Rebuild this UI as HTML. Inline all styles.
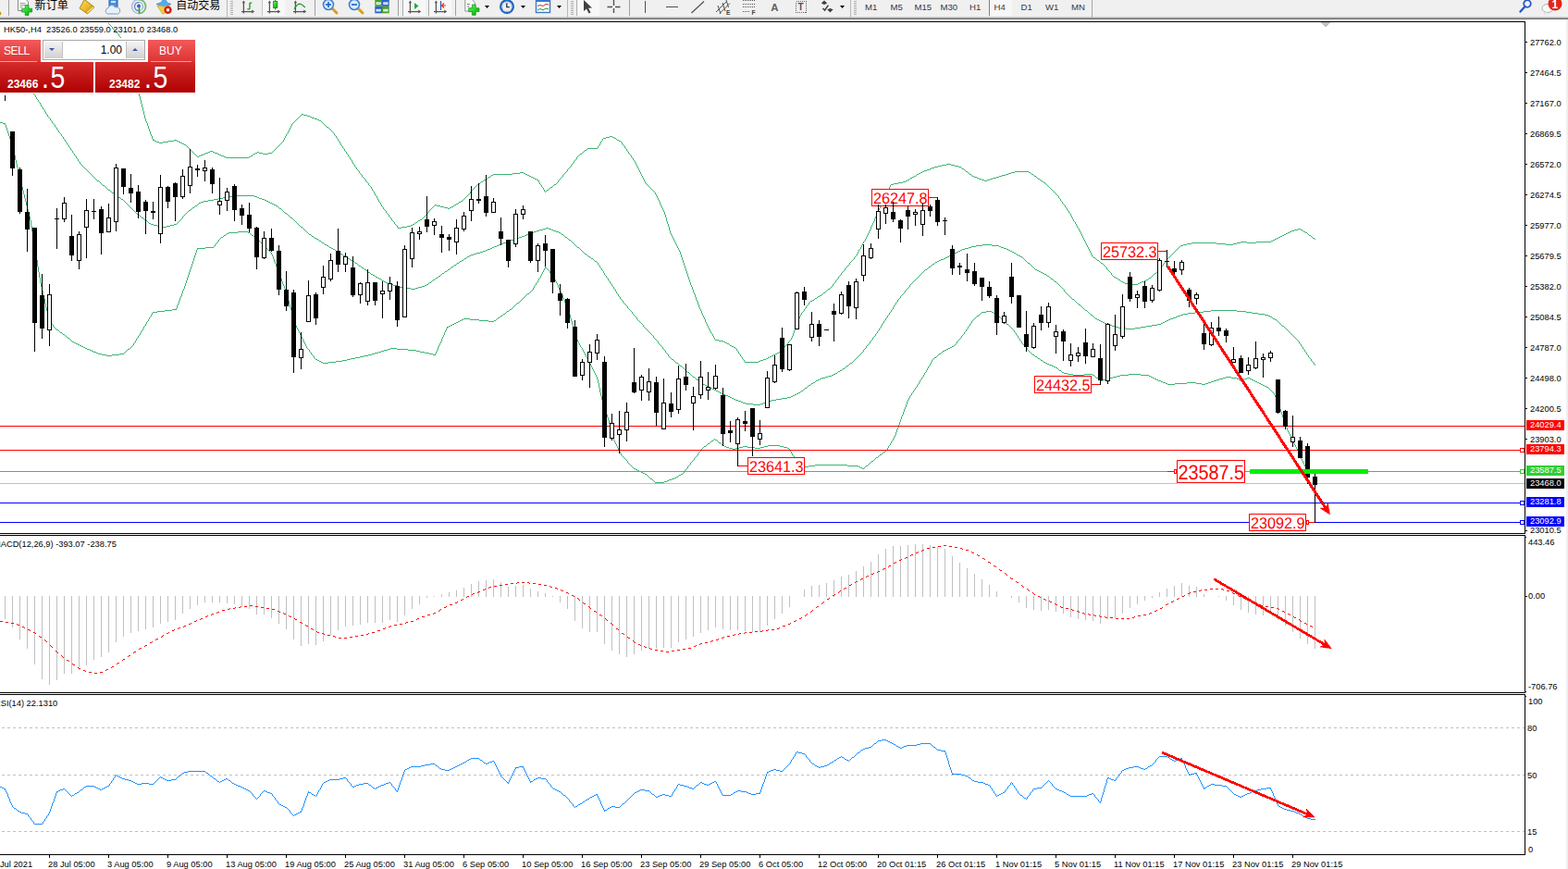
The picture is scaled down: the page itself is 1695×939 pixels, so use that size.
<!DOCTYPE html>
<html><head><meta charset="utf-8"><title>HK50-,H4</title>
<style>
html,body{margin:0;padding:0;background:#fff;}
body{width:1695px;height:939px;position:relative;overflow:hidden;font-family:"Liberation Sans",sans-serif;}
#tb{position:absolute;left:0;top:0;width:1695px;height:18px;background:#f0f0f0;}
#tbl1{position:absolute;left:0;top:18px;width:1695px;height:1px;background:#cfcfcf}
#tbl2{position:absolute;left:0;top:19px;width:1695px;height:1px;background:#a0a0a0}
#tbl3{position:absolute;left:0;top:20px;width:1695px;height:1px;background:#707070}
#rightedge{position:absolute;left:1693px;top:21px;width:2px;height:918px;background:#f0f0f0}
svg{position:absolute;left:0;top:0}
.t,.tag,.tf{position:absolute;font-size:9.3px;line-height:12px;height:12px;white-space:nowrap;color:#000;}
.tag{left:1650px;width:41px;height:11px;line-height:11px;color:#fff;text-indent:4px;margin-top:0px}
.tf{top:1.5px;font-size:9.6px;color:#383838}
.lab{position:absolute;border:1px solid #f00;color:#f00;text-align:center;white-space:nowrap;letter-spacing:-0.1px}
#panel div{position:absolute}
.red1{background:linear-gradient(#f45a5a,#dc3434)}
.red2{background:linear-gradient(#d62c2c,#ae0000)}
.pw{color:#fff;white-space:nowrap}
</style></head><body>
<div id="tb"></div><div id="tbl1"></div><div id="tbl2"></div><div id="tbl3"></div>
<svg width="1695" height="24" viewBox="0 0 1695 24"><defs><linearGradient id="gp" x1="0" y1="0" x2="1" y2="1"><stop offset="0" stop-color="#7cf07c"/><stop offset="0.5" stop-color="#28d828"/><stop offset="1" stop-color="#0c9c0c"/></linearGradient><linearGradient id="gb" x1="0" y1="0" x2="1" y2="1"><stop offset="0" stop-color="#fbe060"/><stop offset="0.55" stop-color="#e8b828"/><stop offset="1" stop-color="#a87008"/></linearGradient></defs><path d="M0,12.5 l1.5,1.2 l-0.5,2.3 l-1,0.5z" fill="#c89018"/><rect x="9" y="0" width="1" height="17" fill="#a0a0a0"/><path d="M19.5,-1 h8 l3,3 v9.5 h-11 z" fill="#fff" stroke="#8a8a8a" stroke-width="1"/><path d="M21.5,3.5h6M21.5,5.5h6M21.5,7.5h3" stroke="#9a9a9a" stroke-width="1"/><path d="M27.2,5.6 h3.8 v3.6 h3.6 v3.8 h-3.6 v3.6 h-3.8 v-3.6 h-3.6 v-3.8 h3.6 z" fill="url(#gp)" stroke="#0a8a0a" stroke-width="0.7"/><text x="37.5" y="10.3" font-size="12.2" font-family="'Liberation Sans','Noto Sans CJK SC',sans-serif" fill="#000">新订单</text><path d="M91.3,-0.5 L102,7.7 L94.5,14.8 L86,9 Z" fill="url(#gb)" stroke="#a87808" stroke-width="0.9"/><path d="M94.5,14 L101.5,8 L100.8,7.2 L94,13Z" fill="#fff0b0"/><rect x="118" y="-1" width="9" height="9" fill="#4a90e0" stroke="#2060b0" stroke-width="1"/><rect x="120" y="1" width="5" height="2" fill="#cfe4ff"/><path d="M116,15 a3.5,3.5 0 0 1 1,-6.5 a4,4 0 0 1 7.5,-0.5 a3.5,3.5 0 0 1 3,7 z" fill="#e8f0fa" stroke="#7a9ccc" stroke-width="1"/><path d="M150,-0.5 a7.5,7.5 0 0 0 0,15" fill="none" stroke="#a8bce4" stroke-width="1.5"/><path d="M150,14.5 a7.5,7.5 0 0 0 0,-15" fill="none" stroke="#78b878" stroke-width="1.8"/><path d="M150,2.5 a4.5,4.5 0 0 0 0,9" fill="none" stroke="#6888cc" stroke-width="1.4"/><path d="M150,11.5 a4.5,4.5 0 0 0 0,-9" fill="none" stroke="#88b0c8" stroke-width="1.2"/><circle cx="150" cy="6.5" r="1.9" fill="#3060c8"/><path d="M150.5,7.5 v7" fill="none" stroke="#28a828" stroke-width="1.6"/><path d="M169,4.5 q8,-4 16,0 q-8,3.5 -16,0z" fill="#60b0e4" stroke="#3c88c8" stroke-width="0.8"/><path d="M173.5,3.2 l2.2,-4.2 h3.6 l2.2,4.2z" fill="#58a8e0"/><path d="M170,6.2 q7,2.5 13,0 l-5.5,8.6 q-1,0.6 -2,0z" fill="#f4d040" stroke="#c89810" stroke-width="0.7"/><circle cx="181.5" cy="10.8" r="4.2" fill="#d82010"/><rect x="180" y="9.3" width="3" height="3" fill="#fff"/><text x="190.3" y="10.3" font-size="12" font-family="'Liberation Sans','Noto Sans CJK SC',sans-serif" fill="#000">自动交易</text><rect x="245" y="0" width="1" height="19" fill="#b8b8b8"/><rect x="249" y="1" width="3" height="1" fill="#b0b0b0"/><rect x="249" y="3" width="3" height="1" fill="#b0b0b0"/><rect x="249" y="5" width="3" height="1" fill="#b0b0b0"/><rect x="249" y="7" width="3" height="1" fill="#b0b0b0"/><rect x="249" y="9" width="3" height="1" fill="#b0b0b0"/><rect x="249" y="11" width="3" height="1" fill="#b0b0b0"/><rect x="249" y="13" width="3" height="1" fill="#b0b0b0"/><rect x="249" y="15" width="3" height="1" fill="#b0b0b0"/><path d="M263.4,2 V14.6 M261,12.5 H273" stroke="#555555" stroke-width="1.25" fill="none"/><path d="M275.2,12.5 l-3,-1.9 v3.8z M263.4,0.6 l-1.7,2.6 h3.4z" fill="#555555"/><path d="M270,3.1 V9.8 M270,3.1 h2.2 M267.3,9.8 h2.7" stroke="#189828" stroke-width="1.3" fill="none"/><rect x="283" y="0" width="1" height="17" fill="#c8c8c8"/><rect x="284.5" y="0" width="24" height="17" fill="#f8f8f8"/><path d="M291.4,2 V14.6 M289,12.5 H301" stroke="#555555" stroke-width="1.25" fill="none"/><path d="M303.2,12.5 l-3,-1.9 v3.8z M291.4,0.6 l-1.7,2.6 h3.4z" fill="#555555"/><path d="M297.6,0v10.5" stroke="#108818" stroke-width="1"/><rect x="295.4" y="1.6" width="4.4" height="6.8" fill="url(#gp)" stroke="#108818" stroke-width="0.8"/><path d="M319.4,2 V14.6 M317,12.5 H329" stroke="#555555" stroke-width="1.25" fill="none"/><path d="M331.2,12.5 l-3,-1.9 v3.8z M319.4,0.6 l-1.7,2.6 h3.4z" fill="#555555"/><path d="M318,9.6 Q321.5,4.2 324,4.2 Q326.5,4.6 329.8,8" stroke="#189828" stroke-width="1.2" fill="none"/><rect x="340" y="0" width="1" height="17" fill="#a0a0a0"/><path d="M359,9 l5,5" stroke="#d8a020" stroke-width="3" stroke-linecap="round"/><circle cx="355" cy="5" r="5.5" fill="#d8ecff" stroke="#4080d0" stroke-width="1.6"/><path d="M352,5 h6" stroke="#2060c0" stroke-width="1.6"/><path d="M355,2 v6" stroke="#2060c0" stroke-width="1.6"/><path d="M387,9 l5,5" stroke="#d8a020" stroke-width="3" stroke-linecap="round"/><circle cx="383" cy="5" r="5.5" fill="#d8ecff" stroke="#4080d0" stroke-width="1.6"/><path d="M380,5 h6" stroke="#2060c0" stroke-width="1.6"/><rect x="405.3" y="-0.5" width="7.7" height="7.3" fill="#48a028"/><rect x="406.6" y="2.3" width="5.1" height="2.6" fill="#fff"/><rect x="407.5" y="3.1" width="3.3" height="0.9" fill="#48a028" opacity="0.45"/><rect x="413" y="-0.5" width="7.7" height="7.3" fill="#2862d2"/><rect x="414.3" y="2.3" width="5.1" height="2.6" fill="#fff"/><rect x="415.2" y="3.1" width="3.3" height="0.9" fill="#2862d2" opacity="0.45"/><rect x="405.3" y="7" width="7.7" height="7.3" fill="#2862d2"/><rect x="406.6" y="9.8" width="5.1" height="2.6" fill="#fff"/><rect x="407.5" y="10.6" width="3.3" height="0.9" fill="#2862d2" opacity="0.45"/><rect x="413" y="7" width="7.7" height="7.3" fill="#48a028"/><rect x="414.3" y="9.8" width="5.1" height="2.6" fill="#fff"/><rect x="415.2" y="10.6" width="3.3" height="0.9" fill="#48a028" opacity="0.45"/><rect x="430" y="0" width="1" height="17" fill="#a0a0a0"/><rect x="435" y="0" width="1" height="17" fill="#a8a8a8"/><rect x="436" y="0" width="24" height="17" fill="#f7f7f7"/><path d="M443.4,2 V14.6 M441,12.5 H453" stroke="#555555" stroke-width="1.25" fill="none"/><path d="M455.2,12.5 l-3,-1.9 v3.8z M443.4,0.6 l-1.7,2.6 h3.4z" fill="#555555"/><path d="M448,3 l4.5,3.5 l-4.5,3.5z" fill="#20b030"/><rect x="464" y="0" width="24" height="17" fill="#f7f7f7"/><rect x="463" y="0" width="1" height="17" fill="#a8a8a8"/><path d="M471.4,2 V14.6 M469,12.5 H481" stroke="#555555" stroke-width="1.25" fill="none"/><path d="M483.2,12.5 l-3,-1.9 v3.8z M471.4,0.6 l-1.7,2.6 h3.4z" fill="#555555"/><path d="M476.5,1v10" stroke="#3060c0" stroke-width="1.3"/><path d="M482,6 h-4 m2,-2.5 l-2.5,2.5 l2.5,2.5" stroke="#e03010" stroke-width="1.2" fill="none"/><rect x="492" y="0" width="1" height="17" fill="#a0a0a0"/><path d="M502.8,-0.5 h7.5 l3,3 v9.6 h-10.5z" fill="#f8f8f8" stroke="#8a8a8a" stroke-width="0.9"/><path d="M505,4.5 h3 M505,7 h2" stroke="#707070" stroke-width="0.9"/><path d="M510.4,5.1 h3.8 v3.7 h3.7 v3.8 h-3.7 v3.7 h-3.8 v-3.7 h-3.7 v-3.8 h3.7 z" fill="url(#gp)" stroke="#0a8a0a" stroke-width="0.7"/><path d="M524.0,6 h5 l-2.5,3z" fill="#000"/><circle cx="548" cy="7.2" r="8" fill="#2468c8"/><circle cx="548" cy="7.2" r="5.6" fill="#eef0f4"/><circle cx="548" cy="7.2" r="4.6" fill="none" stroke="#a0a8b8" stroke-width="0.8" stroke-dasharray="0.8 1.6"/><path d="M547.8,3.2 V7.6 H550.8" stroke="#303030" stroke-width="1.3" fill="none"/><path d="M563.0,6 h5 l-2.5,3z" fill="#000"/><rect x="579.5" y="-0.5" width="15" height="14" fill="#fff" stroke="#3878c8" stroke-width="1.4"/><rect x="579" y="-1" width="16" height="3" fill="#3878c8"/><path d="M581,6.5 l3,-1 l3,1 l3,-2 l3,0.5" stroke="#c03020" stroke-width="1" fill="none"/><path d="M581,11 l3,-1.5 l3,1.5 l3,-2 l3,1" stroke="#209030" stroke-width="1" fill="none"/><path d="M602.0,6 h5 l-2.5,3z" fill="#000"/><rect x="613" y="0" width="1" height="19" fill="#b8b8b8"/><rect x="617" y="1" width="3" height="1" fill="#b0b0b0"/><rect x="617" y="3" width="3" height="1" fill="#b0b0b0"/><rect x="617" y="5" width="3" height="1" fill="#b0b0b0"/><rect x="617" y="7" width="3" height="1" fill="#b0b0b0"/><rect x="617" y="9" width="3" height="1" fill="#b0b0b0"/><rect x="617" y="11" width="3" height="1" fill="#b0b0b0"/><rect x="617" y="13" width="3" height="1" fill="#b0b0b0"/><rect x="617" y="15" width="3" height="1" fill="#b0b0b0"/><rect x="623" y="0" width="1" height="17" fill="#b0b0b0"/><rect x="625" y="0" width="23" height="17" fill="#f8f8f8"/><path d="M631,0 V12 L634,9.5 L636.5,14.5 L638.5,13.5 L636,8.8 L640,8.5 Z" fill="#404040"/><path d="M663.5,0 V14 M656.5,7.5 H670.5" stroke="#505050" stroke-width="1.4"/><rect x="662" y="6" width="3" height="3" fill="#f0f0f0"/><rect x="680" y="0" width="1" height="17" fill="#a0a0a0"/><rect x="697" y="1" width="1" height="13" fill="#505050"/><rect x="720" y="7" width="13" height="1" fill="#505050"/><path d="M747.5,14 L761,1.5" stroke="#505050" stroke-width="1.2"/><path d="M774,13 L785,2 M778,14.5 L789,3.5 M776,6 l3,9 M781,3 l3,9 M785,0 l2.5,8" stroke="#505050" stroke-width="1"/><text x="785" y="15.6" font-size="6.6" font-weight="bold" font-family="Liberation Sans" fill="#404040">E</text><path d="M803,0.5 H816" stroke="#505050" stroke-width="1" stroke-dasharray="1 1" shape-rendering="crispEdges"/><path d="M803,4.0 H816" stroke="#505050" stroke-width="1" stroke-dasharray="1 1" shape-rendering="crispEdges"/><path d="M803,7.7 H816" stroke="#505050" stroke-width="1" stroke-dasharray="1 1" shape-rendering="crispEdges"/><path d="M803,12.0 H811" stroke="#505050" stroke-width="1" stroke-dasharray="1 1" shape-rendering="crispEdges"/><text x="812.4" y="15.6" font-size="6.6" font-weight="bold" font-family="Liberation Sans" fill="#404040">F</text><text x="833.3" y="11.6" font-size="11.4" font-weight="bold" font-family="Liberation Sans" fill="#606060">A</text><rect x="860.5" y="1.5" width="11" height="12" fill="none" stroke="#606060" stroke-width="1" stroke-dasharray="1 1" shape-rendering="crispEdges"/><text x="862.6" y="11.2" font-size="10" font-weight="bold" font-family="Liberation Sans" fill="#505050">T</text><path d="M887.8,3.6 l3.2,-3 l3.2,3 l-3.2,1.4z M894.2,10.2 l3.2,3.2 l3.2,-3.2 l-3.2,-1.2z" fill="#404040"/><path d="M889.4,9 l2.2,2 l3.8,-5.4" stroke="#404040" stroke-width="1.5" fill="none"/><path d="M908.0,6 h5 l-2.5,3z" fill="#000"/><rect x="919" y="0" width="1" height="19" fill="#b8b8b8"/><rect x="923" y="1" width="3" height="1" fill="#b0b0b0"/><rect x="923" y="3" width="3" height="1" fill="#b0b0b0"/><rect x="923" y="5" width="3" height="1" fill="#b0b0b0"/><rect x="923" y="7" width="3" height="1" fill="#b0b0b0"/><rect x="923" y="9" width="3" height="1" fill="#b0b0b0"/><rect x="923" y="11" width="3" height="1" fill="#b0b0b0"/><rect x="923" y="13" width="3" height="1" fill="#b0b0b0"/><rect x="923" y="15" width="3" height="1" fill="#b0b0b0"/><rect x="1069" y="0" width="25" height="17" fill="#f7f7f7"/><rect x="1069" y="0" width="1" height="17" fill="#808080"/><rect x="1180" y="0" width="1" height="19" fill="#a8a8a8"/><circle cx="1651" cy="4" r="3.8" fill="#eaf2ff" stroke="#2858c8" stroke-width="1.8"/><path d="M1648.5,7 l-5,5.5" stroke="#2858c8" stroke-width="2.4" stroke-linecap="round"/><ellipse cx="1673" cy="9" rx="6" ry="4.5" fill="#f8f8f8" stroke="#b0b0b0" stroke-width="1"/><path d="M1670,13 l-1,3 l4,-3z" fill="#d8d8d8"/><circle cx="1681" cy="4" r="7.5" fill="#e02818"/><text x="1677.5" y="8.5" font-size="12" font-weight="bold" font-family="Liberation Sans" fill="#fff">1</text></svg>
<div class="tf" style="left:935px">M1</div><div class="tf" style="left:962.5px">M5</div><div class="tf" style="left:988.5px">M15</div><div class="tf" style="left:1016.5px">M30</div><div class="tf" style="left:1048px">H1</div><div class="tf" style="left:1074.5px">H4</div><div class="tf" style="left:1103.5px">D1</div><div class="tf" style="left:1130px">W1</div><div class="tf" style="left:1158px">MN</div>
<svg width="1695" height="939" viewBox="0 0 1695 939" shape-rendering="crispEdges">
<rect x="0" y="23" width="1649" height="1" fill="#000" />
<rect x="0" y="576" width="1649" height="1" fill="#000" />
<rect x="0" y="578" width="1649" height="1" fill="#000" />
<rect x="0" y="748" width="1649" height="1" fill="#000" />
<rect x="0" y="750" width="1649" height="1" fill="#000" />
<rect x="0" y="923" width="1649" height="1" fill="#000" />
<rect x="1648" y="23" width="1" height="554" fill="#000" />
<rect x="1648" y="578" width="1" height="171" fill="#000" />
<rect x="1648" y="750" width="1" height="174" fill="#000" />
<path d="M117 25h1v1h-1zM118 26h1v1h-1zM119 27h1v1h-1zM120 28h1v1h-1zM121 29h1v2h-1zM122 31h1v1h-1zM123 32h1v1h-1zM124 33h1v1h-1zM125 34h1v1h-1zM126 35h1v1h-1zM127 36h1v1h-1zM128 37h1v2h-1zM129 39h1v1h-1zM130 40h1v1h-1zM131 41h1v2h-1zM132 43h1v3h-1zM133 46h1v4h-1zM134 50h1v3h-1zM135 53h1v3h-1zM136 56h1v3h-1zM137 59h1v3h-1zM138 62h1v4h-1zM139 66h1v3h-1zM140 69h1v3h-1zM141 72h1v3h-1zM142 75h1v3h-1zM143 78h1v4h-1zM144 82h1v3h-1zM145 85h1v3h-1zM146 88h1v3h-1zM147 91h1v3h-1zM148 94h1v4h-1zM149 98h1v3h-1zM150 101h1v3h-1zM151 104h1v4h-1zM152 108h1v4h-1zM153 112h1v4h-1zM154 116h1v4h-1zM155 120h1v4h-1zM156 124h1v4h-1zM157 128h1v3h-1zM158 131h1v2h-1zM159 133h1v3h-1zM160 136h1v3h-1zM161 139h1v3h-1zM162 142h1v3h-1zM163 145h1v2h-1zM164 147h1v3h-1zM165 150h1v1h-1zM165 151h2v1h-2zM167 152h2v1h-2zM169 153h3v1h-3zM172 154h4v1h-4zM176 153h6v1h-6zM182 152h6v1h-6zM188 151h3v1h-3zM191 152h2v1h-2zM193 153h2v1h-2zM195 154h2v1h-2zM197 155h2v1h-2zM199 156h2v1h-2zM201 157h1v1h-1zM202 158h1v1h-1zM203 159h1v1h-1zM204 160h1v1h-1zM205 161h1v1h-1zM206 162h1v1h-1zM207 163h1v1h-1zM208 164h1v1h-1zM209 165h1v1h-1zM210 166h1v1h-1zM211 167h1v1h-1zM212 168h1v1h-1zM213 169h2v1h-2zM215 168h2v1h-2zM217 167h3v1h-3zM220 166h2v1h-2zM222 165h3v1h-3zM225 164h2v1h-2zM227 163h3v1h-3zM230 164h2v1h-2zM232 165h3v1h-3zM235 166h2v1h-2zM237 167h2v1h-2zM239 168h3v1h-3zM242 169h2v1h-2zM244 170h25v1h-25zM269 169h2v1h-2zM271 168h2v1h-2zM273 167h1v1h-1zM274 166h2v1h-2zM276 165h2v1h-2zM278 164h2v1h-2zM280 165h4v1h-4zM284 166h6v1h-6zM290 165h4v1h-4zM294 164h1v1h-1zM295 163h1v1h-1zM296 162h1v1h-1zM297 161h1v1h-1zM298 160h1v1h-1zM299 159h1v1h-1zM300 158h1v1h-1zM301 157h1v1h-1zM302 156h1v1h-1zM303 155h1v1h-1zM304 154h1v1h-1zM305 153h1v1h-1zM306 151h1v2h-1zM307 149h1v2h-1zM308 147h1v2h-1zM309 145h1v2h-1zM310 144h1v1h-1zM311 142h1v2h-1zM312 140h1v2h-1zM313 138h1v2h-1zM314 136h1v2h-1zM315 134h1v2h-1zM316 133h1v1h-1zM317 132h1v1h-1zM318 131h1v1h-1zM319 130h1v1h-1zM320 129h1v1h-1zM321 128h1v1h-1zM322 127h1v1h-1zM323 126h1v1h-1zM324 125h1v1h-1zM325 124h1v1h-1zM326 123h2v1h-2zM328 124h4v1h-4zM332 125h3v1h-3zM335 126h2v1h-2zM337 127h3v1h-3zM340 128h3v1h-3zM343 129h2v1h-2zM345 130h2v1h-2zM347 131h1v1h-1zM348 132h1v1h-1zM349 133h1v1h-1zM350 134h1v1h-1zM351 135h1v1h-1zM352 136h1v1h-1zM353 137h2v1h-2zM355 138h1v1h-1zM356 139h1v1h-1zM357 140h1v1h-1zM358 141h1v1h-1zM359 142h1v1h-1zM360 143h1v1h-1zM361 144h1v2h-1zM362 146h1v1h-1zM363 147h1v2h-1zM364 149h1v1h-1zM365 150h1v2h-1zM366 152h1v1h-1zM367 153h1v2h-1zM368 155h1v2h-1zM369 157h1v1h-1zM370 158h1v2h-1zM371 160h1v1h-1zM372 161h1v2h-1zM373 163h1v1h-1zM374 164h1v2h-1zM375 166h1v1h-1zM376 167h1v2h-1zM377 169h1v1h-1zM378 170h1v2h-1zM379 172h1v1h-1zM380 173h1v2h-1zM381 175h1v2h-1zM382 177h1v1h-1zM383 178h1v2h-1zM384 180h1v1h-1zM385 181h1v2h-1zM386 183h1v1h-1zM387 184h1v1h-1zM388 185h1v2h-1zM389 187h1v1h-1zM390 188h1v1h-1zM391 189h1v2h-1zM392 191h1v1h-1zM393 192h1v1h-1zM394 193h1v1h-1zM395 194h1v2h-1zM396 196h1v1h-1zM397 197h1v1h-1zM398 198h1v2h-1zM399 200h1v1h-1zM400 201h1v1h-1zM401 202h1v2h-1zM402 204h1v2h-1zM403 206h1v1h-1zM404 207h1v2h-1zM405 209h1v2h-1zM406 211h1v1h-1zM407 212h1v2h-1zM408 214h1v2h-1zM409 216h1v2h-1zM410 218h1v1h-1zM411 219h1v2h-1zM412 221h1v2h-1zM413 223h1v1h-1zM414 224h1v2h-1zM415 226h1v1h-1zM416 227h1v1h-1zM417 228h1v2h-1zM418 230h1v1h-1zM419 231h1v1h-1zM420 232h1v2h-1zM421 234h1v1h-1zM422 235h1v1h-1zM423 236h1v2h-1zM424 238h1v1h-1zM425 239h1v1h-1zM426 240h1v2h-1zM427 242h1v1h-1zM428 243h1v1h-1zM429 244h1v2h-1zM430 246h4v1h-4zM434 245h6v1h-6zM440 244h4v1h-4zM444 243h2v1h-2zM446 242h2v1h-2zM448 241h1v1h-1zM449 240h2v1h-2zM451 239h1v1h-1zM452 238h2v1h-2zM454 237h2v1h-2zM456 236h1v1h-1zM457 235h1v1h-1zM458 234h1v1h-1zM459 233h1v1h-1zM460 232h1v1h-1zM461 231h1v1h-1zM462 230h1v1h-1zM463 228h1v2h-1zM464 227h1v1h-1zM465 226h1v1h-1zM466 225h1v1h-1zM467 224h1v1h-1zM468 223h1v1h-1zM469 222h1v1h-1zM470 221h2v1h-2zM472 222h4v1h-4zM476 223h4v1h-4zM480 224h4v1h-4zM484 225h2v1h-2zM486 224h2v1h-2zM488 223h2v1h-2zM490 222h1v1h-1zM491 221h2v1h-2zM493 220h2v1h-2zM495 219h1v1h-1zM496 218h2v1h-2zM498 217h2v1h-2zM500 216h1v1h-1zM501 215h1v1h-1zM502 214h1v1h-1zM503 213h1v1h-1zM504 212h1v1h-1zM505 211h1v1h-1zM506 210h1v1h-1zM507 209h1v1h-1zM508 207h1v2h-1zM509 206h1v1h-1zM510 205h1v1h-1zM511 204h1v1h-1zM512 203h1v1h-1zM513 202h1v1h-1zM514 201h1v1h-1zM515 200h1v1h-1zM516 199h1v1h-1zM517 198h2v1h-2zM519 197h1v1h-1zM520 196h2v1h-2zM522 195h1v1h-1zM523 194h2v1h-2zM525 193h2v1h-2zM527 192h1v1h-1zM528 191h2v1h-2zM530 190h1v1h-1zM531 189h2v1h-2zM533 188h21v1h-21zM554 187h8v1h-8zM562 186h4v1h-4zM566 187h2v1h-2zM568 188h2v1h-2zM570 189h2v1h-2zM572 190h2v1h-2zM574 191h2v1h-2zM576 192h2v1h-2zM578 193h2v1h-2zM580 194h2v1h-2zM582 195h1v2h-1zM583 197h1v2h-1zM584 199h1v1h-1zM585 200h1v2h-1zM586 202h1v1h-1zM587 203h1v2h-1zM588 205h1v2h-1zM589 207h1v1h-1zM590 206h1v1h-1zM591 205h2v1h-2zM593 204h1v1h-1zM594 203h1v1h-1zM595 202h2v1h-2zM597 201h1v1h-1zM598 200h1v1h-1zM599 199h2v1h-2zM601 198h1v1h-1zM602 197h1v1h-1zM603 195h1v2h-1zM604 194h1v1h-1zM605 193h1v1h-1zM606 192h1v1h-1zM607 191h1v1h-1zM608 189h1v2h-1zM609 188h1v1h-1zM610 187h1v1h-1zM611 186h1v1h-1zM612 185h1v1h-1zM613 183h1v2h-1zM614 182h1v1h-1zM615 181h1v1h-1zM616 180h1v1h-1zM617 178h1v2h-1zM618 177h1v1h-1zM619 176h1v1h-1zM620 174h1v2h-1zM621 173h1v1h-1zM622 172h1v1h-1zM623 170h1v2h-1zM624 169h1v1h-1zM625 168h1v1h-1zM626 167h1v1h-1zM627 166h2v1h-2zM629 165h1v1h-1zM630 164h1v1h-1zM631 163h1v1h-1zM632 162h2v1h-2zM634 161h1v1h-1zM635 160h11v1h-11zM646 158h1v2h-1zM647 157h1v1h-1zM648 155h1v2h-1zM649 153h1v2h-1zM650 152h1v1h-1zM651 150h1v2h-1zM652 149h3v1h-3zM655 148h4v1h-4zM659 147h3v1h-3zM662 148h2v1h-2zM664 149h2v1h-2zM666 150h1v1h-1zM667 151h2v1h-2zM669 152h2v1h-2zM671 153h1v1h-1zM672 154h1v2h-1zM673 156h1v1h-1zM674 157h1v1h-1zM675 158h1v2h-1zM676 160h1v1h-1zM677 161h1v2h-1zM678 163h1v1h-1zM679 164h1v2h-1zM680 166h1v1h-1zM681 167h1v1h-1zM682 168h1v2h-1zM683 170h1v1h-1zM684 171h1v2h-1zM685 173h1v1h-1zM686 174h1v2h-1zM687 176h1v2h-1zM688 178h1v2h-1zM689 180h1v2h-1zM690 182h1v2h-1zM691 184h1v2h-1zM692 186h1v2h-1zM693 188h1v2h-1zM694 190h1v2h-1zM695 192h1v2h-1zM696 194h1v2h-1zM697 196h1v2h-1zM698 198h1v1h-1zM699 199h1v1h-1zM700 200h1v1h-1zM701 201h1v1h-1zM702 202h1v1h-1zM703 203h1v1h-1zM704 204h1v1h-1zM705 205h1v1h-1zM706 206h1v1h-1zM707 207h1v1h-1zM708 208h1v2h-1zM709 210h1v2h-1zM710 212h1v2h-1zM711 214h1v2h-1zM712 216h1v2h-1zM713 218h1v3h-1zM714 221h1v2h-1zM715 223h1v2h-1zM716 225h1v2h-1zM717 227h1v2h-1zM718 229h1v3h-1zM719 232h1v3h-1zM720 235h1v4h-1zM721 239h1v3h-1zM722 242h1v3h-1zM723 245h1v4h-1zM724 249h1v3h-1zM725 252h1v2h-1zM726 254h1v2h-1zM727 256h1v2h-1zM728 258h1v2h-1zM729 260h1v2h-1zM730 262h1v2h-1zM731 264h1v2h-1zM732 266h1v2h-1zM733 268h1v2h-1zM734 270h1v2h-1zM735 272h1v3h-1zM736 275h1v3h-1zM737 278h1v3h-1zM738 281h1v3h-1zM739 284h1v3h-1zM740 287h1v3h-1zM741 290h1v3h-1zM742 293h1v3h-1zM743 296h1v3h-1zM744 299h1v3h-1zM745 302h1v3h-1zM746 305h1v3h-1zM747 308h1v2h-1zM748 310h1v3h-1zM749 313h1v3h-1zM750 316h1v2h-1zM751 318h1v3h-1zM752 321h1v3h-1zM753 324h1v2h-1zM754 326h1v3h-1zM755 329h1v3h-1zM756 332h1v2h-1zM757 334h1v2h-1zM758 336h1v3h-1zM759 339h1v2h-1zM760 341h1v2h-1zM761 343h1v2h-1zM762 345h1v3h-1zM763 348h1v2h-1zM764 350h1v2h-1zM765 352h1v2h-1zM766 354h1v2h-1zM767 356h1v2h-1zM768 358h1v2h-1zM769 360h1v1h-1zM770 361h1v2h-1zM771 363h1v2h-1zM772 365h1v2h-1zM773 367h4v1h-4zM777 368h5v1h-5zM782 369h2v1h-2zM784 370h2v1h-2zM786 371h2v1h-2zM788 372h1v1h-1zM789 373h2v1h-2zM791 374h2v1h-2zM793 375h2v1h-2zM795 376h1v1h-1zM796 377h1v2h-1zM797 379h1v1h-1zM798 380h1v2h-1zM799 382h1v1h-1zM800 383h1v2h-1zM801 385h1v1h-1zM802 386h1v2h-1zM803 388h1v1h-1zM804 389h1v2h-1zM805 391h15v1h-15zM820 390h2v1h-2zM822 389h3v1h-3zM825 388h3v1h-3zM828 387h2v1h-2zM830 386h2v1h-2zM832 385h2v1h-2zM834 384h2v1h-2zM836 383h2v1h-2zM838 382h2v1h-2zM840 381h2v1h-2zM842 380h2v1h-2zM844 379h1v1h-1zM845 378h1v1h-1zM846 376h1v2h-1zM847 375h1v1h-1zM848 374h1v1h-1zM849 373h1v1h-1zM850 372h1v1h-1zM851 371h1v1h-1zM852 369h1v2h-1zM853 368h1v1h-1zM854 367h1v1h-1zM855 365h1v2h-1zM856 363h1v2h-1zM857 360h1v3h-1zM858 357h1v3h-1zM859 355h1v2h-1zM860 352h1v3h-1zM861 350h1v2h-1zM862 347h1v3h-1zM863 344h1v3h-1zM864 342h1v2h-1zM865 340h1v2h-1zM866 338h1v2h-1zM867 337h1v1h-1zM868 336h1v1h-1zM869 334h1v2h-1zM870 333h1v1h-1zM871 331h1v2h-1zM872 330h1v1h-1zM873 329h1v1h-1zM874 327h1v2h-1zM875 326h1v1h-1zM876 325h2v1h-2zM878 324h2v1h-2zM880 323h1v1h-1zM881 322h2v1h-2zM883 321h1v1h-1zM884 320h2v1h-2zM886 319h2v1h-2zM888 318h1v1h-1zM889 317h1v1h-1zM890 316h2v1h-2zM892 315h1v1h-1zM893 314h1v1h-1zM894 313h1v1h-1zM895 312h2v1h-2zM897 311h1v1h-1zM898 310h1v1h-1zM899 309h1v1h-1zM900 307h1v2h-1zM901 306h1v1h-1zM902 305h1v1h-1zM903 303h1v2h-1zM904 302h1v1h-1zM905 301h1v1h-1zM906 299h1v2h-1zM907 298h1v1h-1zM908 297h1v1h-1zM909 295h1v2h-1zM910 294h1v1h-1zM911 293h1v1h-1zM912 292h1v1h-1zM913 290h1v2h-1zM914 289h1v1h-1zM915 288h1v1h-1zM916 287h1v1h-1zM917 286h1v1h-1zM918 284h1v2h-1zM919 283h1v1h-1zM920 282h1v1h-1zM921 281h1v1h-1zM922 280h1v1h-1zM923 278h1v2h-1zM924 277h1v1h-1zM925 276h1v1h-1zM926 274h1v2h-1zM927 272h1v2h-1zM928 270h1v2h-1zM929 269h1v1h-1zM930 267h1v2h-1zM931 265h1v2h-1zM932 263h1v2h-1zM933 261h1v2h-1zM934 260h1v1h-1zM935 258h1v2h-1zM936 256h1v2h-1zM937 254h1v2h-1zM938 252h1v2h-1zM939 250h1v2h-1zM940 248h1v2h-1zM941 245h1v3h-1zM942 243h1v2h-1zM943 241h1v2h-1zM944 239h1v2h-1zM945 236h1v3h-1zM946 234h1v2h-1zM947 232h1v2h-1zM948 229h1v3h-1zM949 227h1v2h-1zM950 225h1v2h-1zM951 222h1v3h-1zM952 220h1v2h-1zM953 218h1v2h-1zM954 216h1v2h-1zM955 214h1v2h-1zM956 212h1v2h-1zM957 210h1v2h-1zM958 208h1v2h-1zM959 206h1v2h-1zM960 204h1v2h-1zM961 202h1v2h-1zM962 200h1v2h-1zM963 199h3v1h-3zM966 198h5v1h-5zM971 197h5v1h-5zM976 196h3v1h-3zM979 195h2v1h-2zM981 194h2v1h-2zM983 193h1v1h-1zM984 192h2v1h-2zM986 191h2v1h-2zM988 190h2v1h-2zM990 189h1v1h-1zM991 188h2v1h-2zM993 187h2v1h-2zM995 186h2v1h-2zM997 185h2v1h-2zM999 184h3v1h-3zM1002 183h3v1h-3zM1005 182h2v1h-2zM1007 181h3v1h-3zM1010 180h4v1h-4zM1014 179h4v1h-4zM1018 178h5v1h-5zM1023 177h5v1h-5zM1028 178h4v1h-4zM1032 179h4v1h-4zM1036 180h3v1h-3zM1039 181h1v1h-1zM1040 182h2v1h-2zM1042 183h1v1h-1zM1043 184h1v1h-1zM1044 185h2v1h-2zM1046 186h1v1h-1zM1047 187h1v1h-1zM1048 188h2v1h-2zM1050 189h1v1h-1zM1051 190h2v1h-2zM1053 191h3v1h-3zM1056 192h2v1h-2zM1058 193h3v1h-3zM1061 194h3v1h-3zM1064 195h3v1h-3zM1067 194h3v1h-3zM1070 193h3v1h-3zM1073 192h4v1h-4zM1077 191h3v1h-3zM1080 190h3v1h-3zM1083 189h4v1h-4zM1087 188h3v1h-3zM1090 187h3v1h-3zM1093 186h4v1h-4zM1097 185h15v1h-15zM1112 186h2v1h-2zM1114 187h1v1h-1zM1115 188h2v1h-2zM1117 189h1v1h-1zM1118 190h2v1h-2zM1120 191h1v1h-1zM1121 192h1v1h-1zM1122 193h2v1h-2zM1124 194h1v1h-1zM1125 195h2v1h-2zM1127 196h1v1h-1zM1128 197h2v1h-2zM1130 198h1v1h-1zM1131 199h1v1h-1zM1132 200h1v1h-1zM1133 201h1v1h-1zM1134 202h1v1h-1zM1135 203h1v1h-1zM1136 204h1v1h-1zM1137 205h1v1h-1zM1138 206h1v1h-1zM1139 207h1v1h-1zM1140 208h1v1h-1zM1141 209h1v1h-1zM1142 210h1v1h-1zM1143 211h1v1h-1zM1144 212h1v2h-1zM1145 214h1v1h-1zM1146 215h1v2h-1zM1147 217h1v1h-1zM1148 218h1v2h-1zM1149 220h1v1h-1zM1150 221h1v1h-1zM1151 222h1v2h-1zM1152 224h1v1h-1zM1153 225h1v2h-1zM1154 227h1v1h-1zM1155 228h1v2h-1zM1156 230h1v1h-1zM1157 231h1v2h-1zM1158 233h1v2h-1zM1159 235h1v2h-1zM1160 237h1v2h-1zM1161 239h1v1h-1zM1162 240h1v2h-1zM1163 242h1v2h-1zM1164 244h1v2h-1zM1165 246h1v1h-1zM1166 247h1v2h-1zM1167 249h1v2h-1zM1168 251h1v2h-1zM1169 253h1v2h-1zM1170 255h1v2h-1zM1171 257h1v2h-1zM1172 259h1v2h-1zM1173 261h1v2h-1zM1174 263h1v2h-1zM1175 265h1v2h-1zM1176 267h1v2h-1zM1177 269h1v2h-1zM1178 271h1v2h-1zM1179 273h1v2h-1zM1180 275h1v2h-1zM1181 277h1v1h-1zM1182 278h2v1h-2zM1184 279h1v1h-1zM1185 280h1v1h-1zM1186 281h2v1h-2zM1188 282h1v1h-1zM1189 283h1v1h-1zM1190 284h2v1h-2zM1192 285h1v1h-1zM1193 286h1v1h-1zM1194 287h1v1h-1zM1195 288h1v1h-1zM1196 289h1v2h-1zM1197 291h1v1h-1zM1198 292h1v1h-1zM1199 293h1v1h-1zM1200 294h1v1h-1zM1201 295h1v2h-1zM1202 297h1v1h-1zM1203 298h1v1h-1zM1204 299h2v1h-2zM1206 300h2v1h-2zM1208 301h1v1h-1zM1209 302h2v1h-2zM1211 303h1v1h-1zM1212 304h2v1h-2zM1214 305h2v1h-2zM1216 306h6v1h-6zM1222 307h8v1h-8zM1230 306h2v1h-2zM1232 305h2v1h-2zM1234 304h3v1h-3zM1237 303h2v1h-2zM1239 302h2v1h-2zM1241 301h1v1h-1zM1242 300h2v1h-2zM1244 299h1v1h-1zM1245 298h1v1h-1zM1246 297h1v1h-1zM1247 296h1v1h-1zM1248 295h2v1h-2zM1250 294h1v1h-1zM1251 293h1v1h-1zM1252 292h1v1h-1zM1253 290h1v2h-1zM1254 289h1v1h-1zM1255 288h1v1h-1zM1256 287h1v1h-1zM1257 285h1v2h-1zM1258 284h1v1h-1zM1259 283h1v1h-1zM1260 282h1v1h-1zM1261 280h1v2h-1zM1262 279h1v1h-1zM1263 278h1v1h-1zM1264 277h1v1h-1zM1265 276h1v1h-1zM1266 275h1v1h-1zM1267 274h1v1h-1zM1268 273h1v1h-1zM1269 272h1v1h-1zM1270 271h1v1h-1zM1271 270h1v1h-1zM1272 269h1v1h-1zM1273 268h1v1h-1zM1274 267h1v1h-1zM1275 266h1v1h-1zM1276 265h3v1h-3zM1279 264h4v1h-4zM1283 263h5v1h-5zM1288 262h27v1h-27zM1315 263h10v1h-10zM1325 264h8v1h-8zM1333 263h4v1h-4zM1337 262h4v1h-4zM1341 261h7v1h-7zM1348 262h10v1h-10zM1358 261h16v1h-16zM1374 260h2v1h-2zM1376 259h2v1h-2zM1378 258h2v1h-2zM1380 257h2v1h-2zM1382 256h2v1h-2zM1384 255h2v1h-2zM1386 254h2v1h-2zM1388 253h2v1h-2zM1390 252h2v1h-2zM1392 251h2v1h-2zM1394 250h2v1h-2zM1396 249h3v1h-3zM1399 248h4v1h-4zM1403 247h3v1h-3zM1406 248h2v1h-2zM1408 249h1v1h-1zM1409 250h2v1h-2zM1411 251h2v1h-2zM1413 252h1v1h-1zM1414 253h1v1h-1zM1415 254h2v1h-2zM1417 255h1v1h-1zM1418 256h1v1h-1zM1419 257h2v1h-2zM1421 258h1v1h-1z" fill="#3cb371"/>
<path d="M0 45h1v1h-1zM1 46h1v2h-1zM2 48h1v1h-1zM3 49h1v2h-1zM4 51h1v1h-1zM5 52h1v2h-1zM6 54h1v1h-1zM7 55h1v2h-1zM8 57h1v1h-1zM9 58h1v2h-1zM10 60h1v1h-1zM11 61h1v2h-1zM12 63h1v1h-1zM13 64h1v2h-1zM14 66h1v1h-1zM15 67h1v2h-1zM16 69h1v1h-1zM17 70h1v2h-1zM18 72h1v1h-1zM19 73h1v2h-1zM20 75h1v1h-1zM21 76h1v2h-1zM22 78h1v1h-1zM23 79h1v2h-1zM24 81h1v2h-1zM25 83h1v1h-1zM26 84h1v2h-1zM27 86h1v1h-1zM28 87h1v2h-1zM29 89h1v2h-1zM30 91h1v1h-1zM31 92h1v2h-1zM32 94h1v1h-1zM33 95h1v2h-1zM34 97h1v2h-1zM35 99h1v1h-1zM36 100h1v2h-1zM37 102h1v1h-1zM38 103h1v2h-1zM39 105h1v2h-1zM40 107h1v1h-1zM41 108h1v2h-1zM42 110h1v1h-1zM43 111h1v2h-1zM44 113h1v2h-1zM45 115h1v1h-1zM46 116h1v2h-1zM47 118h1v1h-1zM48 119h1v2h-1zM49 121h1v2h-1zM50 123h1v1h-1zM51 124h1v2h-1zM52 126h1v1h-1zM53 127h1v1h-1zM54 128h1v2h-1zM55 130h1v1h-1zM56 131h1v2h-1zM57 133h1v1h-1zM58 134h1v1h-1zM59 135h1v2h-1zM60 137h1v1h-1zM61 138h1v2h-1zM62 140h1v1h-1zM63 141h1v2h-1zM64 143h1v1h-1zM65 144h1v1h-1zM66 145h1v2h-1zM67 147h1v1h-1zM68 148h1v2h-1zM69 150h1v1h-1zM70 151h1v2h-1zM71 153h1v1h-1zM72 154h1v2h-1zM73 156h1v1h-1zM74 157h1v2h-1zM75 159h1v1h-1zM76 160h1v2h-1zM77 162h1v1h-1zM78 163h1v2h-1zM79 165h1v1h-1zM80 166h1v2h-1zM81 168h1v1h-1zM82 169h1v2h-1zM83 171h1v1h-1zM84 172h1v2h-1zM85 174h1v1h-1zM86 175h1v2h-1zM87 177h1v1h-1zM88 178h1v1h-1zM89 179h1v1h-1zM90 180h1v1h-1zM91 181h1v1h-1zM92 182h1v1h-1zM93 183h1v1h-1zM94 184h1v1h-1zM95 185h1v1h-1zM96 186h1v1h-1zM97 187h1v1h-1zM98 188h1v1h-1zM99 189h1v1h-1zM100 190h1v1h-1zM101 191h1v1h-1zM102 192h1v1h-1zM103 193h1v1h-1zM104 194h1v1h-1zM105 195h2v1h-2zM107 196h1v1h-1zM108 197h1v1h-1zM109 198h1v1h-1zM110 199h1v1h-1zM111 200h2v1h-2zM113 201h1v1h-1zM114 202h1v1h-1zM115 203h1v1h-1zM116 204h1v1h-1zM117 205h2v1h-2zM119 206h1v1h-1zM120 207h1v1h-1zM121 208h2v1h-2zM123 209h1v1h-1zM124 210h2v1h-2zM126 211h1v1h-1zM127 212h1v1h-1zM128 213h2v1h-2zM130 214h1v1h-1zM131 215h2v1h-2zM133 216h1v1h-1zM134 217h1v1h-1zM135 218h1v1h-1zM136 219h1v1h-1zM137 220h1v1h-1zM138 221h1v1h-1zM139 222h1v1h-1zM140 223h1v1h-1zM141 224h1v1h-1zM142 225h1v1h-1zM143 226h1v1h-1zM144 227h1v1h-1zM145 228h1v1h-1zM146 229h1v1h-1zM147 230h1v1h-1zM148 231h1v1h-1zM149 232h2v1h-2zM151 233h1v1h-1zM152 234h1v1h-1zM153 235h2v1h-2zM155 236h1v1h-1zM156 237h1v1h-1zM157 238h2v1h-2zM159 239h1v1h-1zM160 240h1v1h-1zM161 241h2v1h-2zM163 242h3v1h-3zM166 243h4v1h-4zM170 244h5v1h-5zM175 245h5v1h-5zM180 244h4v1h-4zM184 243h4v1h-4zM188 242h3v1h-3zM191 241h1v1h-1zM192 240h1v1h-1zM193 239h1v1h-1zM194 238h1v1h-1zM195 237h1v1h-1zM196 236h1v1h-1zM197 234h1v2h-1zM198 233h1v1h-1zM199 232h1v1h-1zM200 231h1v1h-1zM201 230h1v1h-1zM202 229h1v1h-1zM203 228h1v1h-1zM204 227h2v1h-2zM206 226h1v1h-1zM207 225h1v1h-1zM208 224h2v1h-2zM210 223h1v1h-1zM211 222h2v1h-2zM213 221h1v1h-1zM214 220h1v1h-1zM215 219h2v1h-2zM217 218h3v1h-3zM220 217h5v1h-5zM225 216h6v1h-6zM231 215h5v1h-5zM236 214h5v1h-5zM241 213h5v1h-5zM246 212h5v1h-5zM251 211h24v1h-24zM275 212h3v1h-3zM278 213h2v1h-2zM280 214h3v1h-3zM283 215h3v1h-3zM286 216h2v1h-2zM288 217h2v1h-2zM290 218h2v1h-2zM292 219h2v1h-2zM294 220h2v1h-2zM296 221h2v1h-2zM298 222h2v1h-2zM300 223h1v1h-1zM301 224h1v1h-1zM302 225h2v1h-2zM304 226h1v1h-1zM305 227h1v1h-1zM306 228h1v1h-1zM307 229h1v1h-1zM308 230h2v1h-2zM310 231h1v1h-1zM311 232h1v1h-1zM312 233h1v1h-1zM313 234h1v1h-1zM314 235h2v1h-2zM316 236h1v1h-1zM317 237h1v1h-1zM318 238h1v1h-1zM319 239h1v1h-1zM320 240h1v1h-1zM321 241h1v1h-1zM322 242h1v1h-1zM323 243h1v1h-1zM324 244h1v1h-1zM325 245h2v1h-2zM327 246h1v1h-1zM328 247h1v1h-1zM329 248h1v1h-1zM330 249h1v1h-1zM331 250h1v1h-1zM332 251h1v1h-1zM333 252h1v1h-1zM334 253h2v1h-2zM336 254h1v1h-1zM337 255h2v1h-2zM339 256h1v1h-1zM340 257h2v1h-2zM342 258h2v1h-2zM344 259h1v1h-1zM345 260h2v1h-2zM347 261h1v1h-1zM348 262h2v1h-2zM350 263h1v1h-1zM351 264h2v1h-2zM353 265h2v1h-2zM355 266h1v1h-1zM356 267h2v1h-2zM358 268h2v1h-2zM360 269h2v1h-2zM362 270h1v1h-1zM363 271h2v1h-2zM365 272h2v1h-2zM367 273h1v1h-1zM368 274h2v1h-2zM370 275h1v1h-1zM371 276h2v1h-2zM373 277h2v1h-2zM375 278h1v1h-1zM376 279h2v1h-2zM378 280h1v1h-1zM379 281h2v1h-2zM381 282h2v1h-2zM383 283h1v1h-1zM384 284h2v1h-2zM386 285h1v1h-1zM387 286h1v1h-1zM388 287h2v1h-2zM390 288h1v1h-1zM391 289h2v1h-2zM393 290h1v1h-1zM394 291h2v1h-2zM396 292h1v1h-1zM397 293h1v1h-1zM398 294h2v1h-2zM400 295h1v1h-1zM401 296h2v1h-2zM403 297h2v1h-2zM405 298h1v1h-1zM406 299h2v1h-2zM408 300h2v1h-2zM410 301h2v1h-2zM412 302h1v1h-1zM413 303h2v1h-2zM415 304h2v1h-2zM417 305h2v1h-2zM419 306h3v1h-3zM422 307h3v1h-3zM425 308h4v1h-4zM429 309h3v1h-3zM432 310h5v1h-5zM437 311h7v1h-7zM444 312h5v1h-5zM449 311h3v1h-3zM452 310h4v1h-4zM456 309h3v1h-3zM459 308h2v1h-2zM461 307h2v1h-2zM463 306h1v1h-1zM464 305h2v1h-2zM466 304h1v1h-1zM467 303h1v1h-1zM468 302h2v1h-2zM470 301h1v1h-1zM471 300h2v1h-2zM473 299h1v1h-1zM474 298h2v1h-2zM476 297h1v1h-1zM477 296h1v1h-1zM478 295h2v1h-2zM480 294h1v1h-1zM481 293h2v1h-2zM483 292h1v1h-1zM484 291h2v1h-2zM486 290h1v1h-1zM487 289h1v1h-1zM488 288h2v1h-2zM490 287h1v1h-1zM491 286h2v1h-2zM493 285h1v1h-1zM494 284h2v1h-2zM496 283h1v1h-1zM497 282h2v1h-2zM499 281h2v1h-2zM501 280h1v1h-1zM502 279h2v1h-2zM504 278h1v1h-1zM505 277h2v1h-2zM507 276h2v1h-2zM509 275h3v1h-3zM512 274h3v1h-3zM515 273h4v1h-4zM519 272h3v1h-3zM522 271h3v1h-3zM525 270h2v1h-2zM527 269h3v1h-3zM530 268h2v1h-2zM532 267h2v1h-2zM534 266h3v1h-3zM537 265h2v1h-2zM539 264h3v1h-3zM542 263h2v1h-2zM544 262h3v1h-3zM547 261h3v1h-3zM550 260h2v1h-2zM552 259h3v1h-3zM555 258h3v1h-3zM558 257h3v1h-3zM561 256h3v1h-3zM564 255h3v1h-3zM567 254h2v1h-2zM569 253h3v1h-3zM572 252h3v1h-3zM575 251h2v1h-2zM577 250h3v1h-3zM580 249h3v1h-3zM583 248h4v1h-4zM587 247h3v1h-3zM590 246h3v1h-3zM593 247h3v1h-3zM596 248h2v1h-2zM598 249h3v1h-3zM601 250h3v1h-3zM604 251h2v1h-2zM606 252h1v1h-1zM607 253h2v1h-2zM609 254h1v1h-1zM610 255h1v1h-1zM611 256h2v1h-2zM613 257h1v1h-1zM614 258h1v1h-1zM615 259h2v1h-2zM617 260h1v1h-1zM618 261h1v1h-1zM619 262h1v1h-1zM620 263h1v1h-1zM621 264h1v1h-1zM622 265h1v1h-1zM623 266h1v1h-1zM624 267h2v1h-2zM626 268h1v1h-1zM627 269h1v1h-1zM628 270h1v1h-1zM629 271h1v1h-1zM630 272h1v1h-1zM631 273h1v1h-1zM632 274h2v1h-2zM634 275h1v1h-1zM635 276h1v1h-1zM636 277h2v1h-2zM638 278h1v1h-1zM639 279h2v1h-2zM641 280h1v1h-1zM642 281h1v1h-1zM643 282h2v1h-2zM645 283h1v1h-1zM646 284h1v2h-1zM647 286h1v1h-1zM648 287h1v2h-1zM649 289h1v1h-1zM650 290h1v2h-1zM651 292h1v1h-1zM652 293h1v2h-1zM653 295h1v2h-1zM654 297h1v1h-1zM655 298h1v2h-1zM656 300h1v1h-1zM657 301h1v2h-1zM658 303h1v1h-1zM659 304h1v2h-1zM660 306h1v1h-1zM661 307h1v2h-1zM662 309h1v1h-1zM663 310h1v2h-1zM664 312h1v1h-1zM665 313h1v2h-1zM666 315h1v2h-1zM667 317h1v1h-1zM668 318h1v2h-1zM669 320h1v1h-1zM670 321h1v2h-1zM671 323h1v1h-1zM672 324h1v1h-1zM673 325h1v2h-1zM674 327h1v1h-1zM675 328h1v1h-1zM676 329h1v1h-1zM677 330h1v1h-1zM678 331h1v2h-1zM679 333h1v1h-1zM680 334h1v1h-1zM681 335h1v1h-1zM682 336h1v1h-1zM683 337h1v2h-1zM684 339h1v1h-1zM685 340h1v1h-1zM686 341h1v1h-1zM687 342h1v1h-1zM688 343h1v2h-1zM689 345h1v1h-1zM690 346h1v1h-1zM691 347h1v1h-1zM692 348h1v1h-1zM693 349h1v1h-1zM694 350h1v1h-1zM695 351h1v2h-1zM696 353h1v1h-1zM697 354h1v1h-1zM698 355h1v1h-1zM699 356h1v1h-1zM700 357h1v1h-1zM701 358h1v1h-1zM702 359h1v1h-1zM703 360h1v1h-1zM704 361h1v1h-1zM705 362h1v1h-1zM706 363h1v2h-1zM707 365h1v1h-1zM708 366h1v1h-1zM709 367h1v1h-1zM710 368h1v1h-1zM711 369h1v2h-1zM712 371h1v1h-1zM713 372h1v1h-1zM714 373h1v1h-1zM715 374h1v1h-1zM716 375h1v2h-1zM717 377h1v1h-1zM718 378h1v1h-1zM719 379h1v2h-1zM720 381h1v1h-1zM721 382h1v1h-1zM722 383h1v2h-1zM723 385h1v1h-1zM724 386h1v1h-1zM725 387h1v1h-1zM726 388h2v1h-2zM728 389h1v1h-1zM729 390h1v1h-1zM730 391h1v1h-1zM731 392h2v1h-2zM733 393h1v1h-1zM734 394h1v1h-1zM735 395h2v1h-2zM737 396h1v1h-1zM738 397h1v1h-1zM739 398h1v1h-1zM740 399h1v1h-1zM741 400h1v1h-1zM742 401h1v1h-1zM743 402h2v1h-2zM745 403h1v1h-1zM746 404h1v1h-1zM747 405h1v1h-1zM748 406h1v1h-1zM749 407h2v1h-2zM751 408h1v1h-1zM752 409h1v1h-1zM753 410h2v1h-2zM755 411h1v1h-1zM756 412h1v1h-1zM757 413h2v1h-2zM759 414h1v1h-1zM760 415h2v1h-2zM762 416h2v1h-2zM764 417h2v1h-2zM766 418h2v1h-2zM768 419h2v1h-2zM770 420h2v1h-2zM772 421h2v1h-2zM774 422h2v1h-2zM776 423h2v1h-2zM778 424h2v1h-2zM780 425h2v1h-2zM782 426h2v1h-2zM784 427h3v1h-3zM787 428h2v1h-2zM789 429h2v1h-2zM791 430h2v1h-2zM793 431h2v1h-2zM795 432h3v1h-3zM798 433h3v1h-3zM801 434h2v1h-2zM803 435h3v1h-3zM806 436h8v1h-8zM814 437h8v1h-8zM822 436h3v1h-3zM825 435h2v1h-2zM827 434h3v1h-3zM830 433h4v1h-4zM834 432h5v1h-5zM839 431h6v1h-6zM845 430h6v1h-6zM851 429h4v1h-4zM855 428h2v1h-2zM857 427h2v1h-2zM859 426h2v1h-2zM861 425h2v1h-2zM863 424h2v1h-2zM865 423h1v1h-1zM866 422h2v1h-2zM868 421h1v1h-1zM869 420h1v1h-1zM870 419h2v1h-2zM872 418h1v1h-1zM873 417h1v1h-1zM874 416h2v1h-2zM876 415h1v1h-1zM877 414h2v1h-2zM879 413h2v1h-2zM881 412h1v1h-1zM882 411h2v1h-2zM884 410h2v1h-2zM886 409h2v1h-2zM888 408h4v1h-4zM892 407h3v1h-3zM895 406h4v1h-4zM899 405h2v1h-2zM901 404h2v1h-2zM903 403h2v1h-2zM905 402h1v1h-1zM906 401h2v1h-2zM908 400h2v1h-2zM910 399h1v1h-1zM911 398h2v1h-2zM913 397h1v1h-1zM914 396h1v1h-1zM915 395h2v1h-2zM917 394h1v1h-1zM918 393h1v1h-1zM919 392h2v1h-2zM921 391h1v1h-1zM922 390h1v1h-1zM923 389h1v1h-1zM924 388h1v1h-1zM925 387h1v1h-1zM926 386h1v1h-1zM927 385h1v1h-1zM928 384h1v1h-1zM929 383h1v1h-1zM930 382h1v1h-1zM931 381h1v1h-1zM932 380h1v1h-1zM933 378h1v2h-1zM934 377h1v1h-1zM935 376h1v1h-1zM936 374h1v2h-1zM937 373h1v1h-1zM938 372h1v1h-1zM939 371h1v1h-1zM940 369h1v2h-1zM941 368h1v1h-1zM942 367h1v1h-1zM943 365h1v2h-1zM944 364h1v1h-1zM945 363h1v1h-1zM946 361h1v2h-1zM947 360h1v1h-1zM948 358h1v2h-1zM949 357h1v1h-1zM950 355h1v2h-1zM951 354h1v1h-1zM952 352h1v2h-1zM953 350h1v2h-1zM954 349h1v1h-1zM955 347h1v2h-1zM956 346h1v1h-1zM957 344h1v2h-1zM958 343h1v1h-1zM959 341h1v2h-1zM960 340h1v1h-1zM961 338h1v2h-1zM962 337h1v1h-1zM963 335h1v2h-1zM964 334h1v1h-1zM965 332h1v2h-1zM966 330h1v2h-1zM967 329h1v1h-1zM968 327h1v2h-1zM969 326h1v1h-1zM970 324h1v2h-1zM971 323h1v1h-1zM972 322h1v1h-1zM973 320h1v2h-1zM974 319h1v1h-1zM975 318h1v1h-1zM976 317h1v1h-1zM977 316h1v1h-1zM978 314h1v2h-1zM979 313h1v1h-1zM980 312h1v1h-1zM981 311h1v1h-1zM982 310h1v1h-1zM983 308h1v2h-1zM984 307h1v1h-1zM985 306h1v1h-1zM986 305h1v1h-1zM987 304h1v1h-1zM988 303h1v1h-1zM989 302h1v1h-1zM990 301h1v1h-1zM991 300h1v1h-1zM992 299h1v1h-1zM993 298h1v1h-1zM994 297h1v1h-1zM995 296h1v1h-1zM996 295h1v1h-1zM997 294h1v1h-1zM998 293h1v1h-1zM999 292h1v1h-1zM1000 291h2v1h-2zM1002 290h1v1h-1zM1003 289h1v1h-1zM1004 288h2v1h-2zM1006 287h1v1h-1zM1007 286h1v1h-1zM1008 285h2v1h-2zM1010 284h1v1h-1zM1011 283h2v1h-2zM1013 282h2v1h-2zM1015 281h2v1h-2zM1017 280h3v1h-3zM1020 279h2v1h-2zM1022 278h2v1h-2zM1024 277h2v1h-2zM1026 276h2v1h-2zM1028 275h2v1h-2zM1030 274h2v1h-2zM1032 273h2v1h-2zM1034 272h2v1h-2zM1036 271h2v1h-2zM1038 270h2v1h-2zM1040 269h3v1h-3zM1043 268h4v1h-4zM1047 267h3v1h-3zM1050 266h5v1h-5zM1055 265h7v1h-7zM1062 264h10v1h-10zM1072 265h8v1h-8zM1080 266h2v1h-2zM1082 267h3v1h-3zM1085 268h3v1h-3zM1088 269h2v1h-2zM1090 270h2v1h-2zM1092 271h2v1h-2zM1094 272h2v1h-2zM1096 273h2v1h-2zM1098 274h1v1h-1zM1099 275h2v1h-2zM1101 276h2v1h-2zM1103 277h2v1h-2zM1105 278h1v1h-1zM1106 279h1v1h-1zM1107 280h1v1h-1zM1108 281h1v1h-1zM1109 282h1v1h-1zM1110 283h1v1h-1zM1111 284h2v1h-2zM1113 285h1v1h-1zM1114 286h1v1h-1zM1115 287h1v1h-1zM1116 288h1v1h-1zM1117 289h1v1h-1zM1118 290h1v1h-1zM1119 291h2v1h-2zM1121 292h2v1h-2zM1123 293h2v1h-2zM1125 294h2v1h-2zM1127 295h2v1h-2zM1129 296h2v1h-2zM1131 297h1v1h-1zM1132 298h2v1h-2zM1134 299h1v1h-1zM1135 300h1v1h-1zM1136 301h2v1h-2zM1138 302h1v1h-1zM1139 303h1v1h-1zM1140 304h2v1h-2zM1142 305h1v1h-1zM1143 306h1v1h-1zM1144 307h1v1h-1zM1145 308h1v1h-1zM1146 309h1v1h-1zM1147 310h1v1h-1zM1148 311h1v1h-1zM1149 312h1v1h-1zM1150 313h1v2h-1zM1151 315h1v1h-1zM1152 316h1v1h-1zM1153 317h1v1h-1zM1154 318h1v1h-1zM1155 319h1v1h-1zM1156 320h1v1h-1zM1157 321h1v1h-1zM1158 322h1v1h-1zM1159 323h2v1h-2zM1161 324h1v1h-1zM1162 325h1v1h-1zM1163 326h1v1h-1zM1164 327h1v1h-1zM1165 328h1v1h-1zM1166 329h2v1h-2zM1168 330h1v1h-1zM1169 331h1v1h-1zM1170 332h1v1h-1zM1171 333h1v1h-1zM1172 334h1v1h-1zM1173 335h2v1h-2zM1175 336h1v1h-1zM1176 337h1v1h-1zM1177 338h1v1h-1zM1178 339h1v1h-1zM1179 340h2v1h-2zM1181 341h1v1h-1zM1182 342h1v1h-1zM1183 343h1v1h-1zM1184 344h2v1h-2zM1186 345h2v1h-2zM1188 346h2v1h-2zM1190 347h2v1h-2zM1192 348h2v1h-2zM1194 349h2v1h-2zM1196 350h2v1h-2zM1198 351h4v1h-4zM1202 352h3v1h-3zM1205 353h4v1h-4zM1209 354h8v1h-8zM1217 355h10v1h-10zM1227 354h6v1h-6zM1233 353h6v1h-6zM1239 352h6v1h-6zM1245 351h6v1h-6zM1251 350h4v1h-4zM1255 349h2v1h-2zM1257 348h2v1h-2zM1259 347h2v1h-2zM1261 346h2v1h-2zM1263 345h2v1h-2zM1265 344h3v1h-3zM1268 343h3v1h-3zM1271 342h2v1h-2zM1273 341h3v1h-3zM1276 340h3v1h-3zM1279 339h5v1h-5zM1284 338h8v1h-8zM1292 337h9v1h-9zM1301 336h8v1h-8zM1309 335h28v1h-28zM1337 336h10v1h-10zM1347 337h6v1h-6zM1353 338h7v1h-7zM1360 339h7v1h-7zM1367 340h4v1h-4zM1371 341h2v1h-2zM1373 342h2v1h-2zM1375 343h1v1h-1zM1376 344h2v1h-2zM1378 345h2v1h-2zM1380 346h1v1h-1zM1381 347h1v1h-1zM1382 348h1v1h-1zM1383 349h1v1h-1zM1384 350h1v1h-1zM1385 351h1v1h-1zM1386 352h2v1h-2zM1388 353h1v1h-1zM1389 354h1v1h-1zM1390 355h1v1h-1zM1391 356h1v1h-1zM1392 357h1v1h-1zM1393 358h1v1h-1zM1394 359h1v1h-1zM1395 360h1v1h-1zM1396 361h1v1h-1zM1397 362h1v1h-1zM1398 363h1v1h-1zM1399 364h1v1h-1zM1400 365h1v1h-1zM1401 366h1v1h-1zM1402 367h1v1h-1zM1403 368h1v1h-1zM1404 369h1v2h-1zM1405 371h1v1h-1zM1406 372h1v2h-1zM1407 374h1v1h-1zM1408 375h1v2h-1zM1409 377h1v1h-1zM1410 378h1v2h-1zM1411 380h1v1h-1zM1412 381h1v2h-1zM1413 383h1v1h-1zM1414 384h1v2h-1zM1415 386h1v1h-1zM1416 387h1v1h-1zM1417 388h1v2h-1zM1418 390h1v1h-1zM1419 391h1v1h-1zM1420 392h1v2h-1zM1421 394h1v1h-1z" fill="#3cb371"/>
<path d="M0 132h3v1h-3zM3 133h3v1h-3zM5 134h1v1h-1zM6 135h1v3h-1zM7 138h1v3h-1zM8 141h1v3h-1zM9 144h1v3h-1zM10 147h1v3h-1zM11 150h1v3h-1zM12 153h1v3h-1zM13 156h1v4h-1zM14 160h1v4h-1zM15 164h1v4h-1zM16 168h1v5h-1zM17 173h1v4h-1zM18 177h1v4h-1zM19 181h1v4h-1zM20 185h1v5h-1zM21 190h1v4h-1zM22 194h1v4h-1zM23 198h1v4h-1zM24 202h1v4h-1zM25 206h1v4h-1zM26 210h1v4h-1zM27 214h1v4h-1zM28 218h1v4h-1zM29 222h1v4h-1zM30 226h1v4h-1zM31 230h1v4h-1zM32 234h1v4h-1zM33 238h1v6h-1zM34 244h1v6h-1zM35 250h1v6h-1zM36 256h1v7h-1zM37 263h1v6h-1zM38 269h1v6h-1zM39 275h1v6h-1zM40 281h1v7h-1zM41 288h1v6h-1zM42 294h1v6h-1zM43 300h1v6h-1zM44 306h1v4h-1zM45 310h1v4h-1zM46 314h1v5h-1zM47 319h1v4h-1zM48 323h1v5h-1zM49 328h1v4h-1zM50 332h1v4h-1zM51 336h1v5h-1zM52 341h1v4h-1zM53 345h1v3h-1zM54 348h1v1h-1zM55 349h1v1h-1zM56 350h1v1h-1zM57 351h1v2h-1zM58 353h1v1h-1zM59 354h1v1h-1zM60 355h1v1h-1zM61 356h2v1h-2zM63 357h1v1h-1zM64 358h1v1h-1zM65 359h2v1h-2zM67 360h1v1h-1zM68 361h2v1h-2zM70 362h1v1h-1zM71 363h1v1h-1zM72 364h1v1h-1zM73 365h2v1h-2zM75 366h1v1h-1zM76 367h1v1h-1zM77 368h1v1h-1zM78 369h2v1h-2zM80 370h2v1h-2zM82 371h2v1h-2zM84 372h2v1h-2zM86 373h2v1h-2zM88 374h2v1h-2zM90 375h2v1h-2zM92 376h2v1h-2zM94 377h3v1h-3zM97 378h2v1h-2zM99 379h2v1h-2zM101 380h3v1h-3zM104 381h2v1h-2zM106 382h4v1h-4zM110 383h5v1h-5zM115 384h6v1h-6zM121 383h8v1h-8zM129 382h5v1h-5zM134 381h1v1h-1zM135 380h1v1h-1zM136 379h1v1h-1zM137 378h1v1h-1zM138 377h2v1h-2zM140 376h1v1h-1zM141 375h1v1h-1zM142 374h1v1h-1zM143 373h1v1h-1zM144 371h1v2h-1zM145 370h1v1h-1zM146 368h1v2h-1zM147 366h1v2h-1zM148 365h1v1h-1zM149 363h1v2h-1zM150 362h1v1h-1zM151 360h1v2h-1zM152 358h1v2h-1zM153 357h1v1h-1zM154 355h1v2h-1zM155 353h1v2h-1zM156 352h1v1h-1zM157 350h1v2h-1zM158 348h1v2h-1zM159 347h1v1h-1zM160 345h1v2h-1zM161 343h1v2h-1zM162 342h1v1h-1zM163 340h1v2h-1zM164 338h1v2h-1zM165 337h5v1h-5zM170 336h8v1h-8zM178 335h8v1h-8zM186 334h5v1h-5zM190 333h1v1h-1zM191 330h1v3h-1zM192 328h1v2h-1zM193 325h1v3h-1zM194 322h1v3h-1zM195 320h1v2h-1zM196 317h1v3h-1zM197 314h1v3h-1zM198 312h1v2h-1zM199 309h1v3h-1zM200 306h1v3h-1zM201 303h1v3h-1zM202 300h1v3h-1zM203 297h1v3h-1zM204 294h1v3h-1zM205 291h1v3h-1zM206 288h1v3h-1zM207 285h1v3h-1zM208 282h1v3h-1zM209 279h1v3h-1zM210 276h1v3h-1zM211 273h1v3h-1zM212 270h1v3h-1zM213 269h1v1h-1zM213 268h9v1h-9zM222 267h9v1h-9zM231 266h1v1h-1zM232 264h1v2h-1zM233 263h1v1h-1zM234 262h1v1h-1zM235 261h1v1h-1zM236 259h1v2h-1zM237 258h1v1h-1zM238 257h1v1h-1zM239 256h2v1h-2zM241 255h1v1h-1zM242 254h2v1h-2zM244 253h1v1h-1zM245 252h2v1h-2zM247 251h10v1h-10zM257 250h11v1h-11zM268 251h2v1h-2zM270 252h1v1h-1zM271 253h1v1h-1zM272 254h2v1h-2zM274 255h1v1h-1zM275 256h2v1h-2zM277 257h1v1h-1zM278 258h1v1h-1zM279 259h1v1h-1zM280 260h1v1h-1zM281 261h1v1h-1zM282 262h1v1h-1zM283 263h1v1h-1zM284 264h1v1h-1zM285 265h1v1h-1zM286 266h1v1h-1zM287 267h1v1h-1zM288 268h1v1h-1zM289 269h1v1h-1zM290 270h1v1h-1zM291 271h1v1h-1zM292 272h1v1h-1zM293 273h1v2h-1zM294 275h1v2h-1zM295 277h1v3h-1zM296 280h1v3h-1zM297 283h1v2h-1zM298 285h1v3h-1zM299 288h1v3h-1zM300 291h1v2h-1zM301 293h1v3h-1zM302 296h1v3h-1zM303 299h1v2h-1zM304 301h1v3h-1zM305 304h1v3h-1zM306 307h1v2h-1zM307 309h1v3h-1zM308 312h1v3h-1zM309 315h1v4h-1zM310 319h1v3h-1zM311 322h1v3h-1zM312 325h1v4h-1zM313 329h1v3h-1zM314 332h1v3h-1zM315 335h1v4h-1zM316 339h1v3h-1zM317 342h1v3h-1zM318 345h1v4h-1zM319 349h1v3h-1zM320 352h1v2h-1zM321 354h1v2h-1zM322 356h1v2h-1zM323 358h1v2h-1zM324 360h1v2h-1zM325 362h1v2h-1zM326 364h1v2h-1zM327 366h1v2h-1zM328 368h1v2h-1zM329 370h1v2h-1zM330 372h1v2h-1zM331 374h1v2h-1zM332 376h1v1h-1zM333 377h1v1h-1zM334 378h1v2h-1zM335 380h1v1h-1zM336 381h1v2h-1zM337 383h1v1h-1zM338 384h1v1h-1zM339 385h1v2h-1zM340 387h1v1h-1zM341 388h2v1h-2zM343 389h2v1h-2zM345 390h2v1h-2zM347 391h2v1h-2zM349 392h6v1h-6zM355 391h8v1h-8zM363 390h7v1h-7zM370 389h5v1h-5zM375 388h4v1h-4zM379 387h5v1h-5zM384 386h5v1h-5zM389 385h4v1h-4zM393 384h5v1h-5zM398 383h4v1h-4zM402 382h3v1h-3zM405 381h4v1h-4zM409 380h3v1h-3zM412 379h3v1h-3zM415 378h4v1h-4zM419 377h3v1h-3zM422 376h7v1h-7zM429 377h12v1h-12zM441 378h9v1h-9zM450 379h4v1h-4zM454 380h5v1h-5zM459 381h5v1h-5zM464 382h4v1h-4zM468 383h3v1h-3zM470 382h1v1h-1zM471 380h1v2h-1zM472 378h1v2h-1zM473 375h1v3h-1zM474 373h1v2h-1zM475 371h1v2h-1zM476 369h1v2h-1zM477 366h1v3h-1zM478 364h1v2h-1zM479 362h1v2h-1zM480 359h1v3h-1zM481 357h1v2h-1zM482 355h1v2h-1zM483 354h1v1h-1zM483 353h2v1h-2zM485 352h2v1h-2zM487 351h2v1h-2zM489 350h2v1h-2zM491 349h2v1h-2zM493 348h2v1h-2zM495 347h2v1h-2zM497 346h2v1h-2zM499 345h2v1h-2zM501 344h7v1h-7zM508 345h10v1h-10zM518 346h10v1h-10zM528 347h6v1h-6zM534 346h2v1h-2zM536 345h1v1h-1zM537 344h1v1h-1zM538 343h2v1h-2zM540 342h1v1h-1zM541 341h2v1h-2zM543 340h1v1h-1zM544 339h2v1h-2zM546 338h1v1h-1zM547 337h1v1h-1zM548 336h2v1h-2zM550 335h1v1h-1zM551 334h2v1h-2zM553 333h1v1h-1zM554 332h1v1h-1zM555 331h1v1h-1zM556 330h1v1h-1zM557 329h1v1h-1zM558 328h1v1h-1zM559 327h2v1h-2zM561 326h1v1h-1zM562 325h1v1h-1zM563 324h1v1h-1zM564 323h1v1h-1zM565 322h1v1h-1zM566 321h1v1h-1zM567 320h1v1h-1zM568 319h1v1h-1zM569 318h1v1h-1zM570 317h2v1h-2zM572 316h1v1h-1zM573 315h1v1h-1zM574 314h1v1h-1zM575 313h1v1h-1zM576 311h1v2h-1zM577 309h1v2h-1zM578 308h1v1h-1zM579 306h1v2h-1zM580 305h1v1h-1zM581 303h1v2h-1zM582 301h1v2h-1zM583 300h1v1h-1zM584 298h1v2h-1zM585 296h1v2h-1zM586 294h1v2h-1zM587 292h1v2h-1zM588 290h1v2h-1zM589 288h1v1h-1zM589 289h2v1h-2zM591 290h1v1h-1zM592 291h1v1h-1zM593 292h1v1h-1zM594 293h1v2h-1zM595 295h1v1h-1zM596 296h1v1h-1zM597 297h1v1h-1zM598 298h1v2h-1zM599 300h1v2h-1zM600 302h1v2h-1zM601 304h1v2h-1zM602 306h1v2h-1zM603 308h1v3h-1zM604 311h1v2h-1zM605 313h1v2h-1zM606 315h1v2h-1zM607 317h1v2h-1zM608 319h1v3h-1zM609 322h1v2h-1zM610 324h1v3h-1zM611 327h1v2h-1zM612 329h1v3h-1zM613 332h1v3h-1zM614 335h1v2h-1zM615 337h1v3h-1zM616 340h1v4h-1zM617 344h1v3h-1zM618 347h1v4h-1zM619 351h1v3h-1zM620 354h1v4h-1zM621 358h1v3h-1zM622 361h1v4h-1zM623 365h1v2h-1zM624 367h1v2h-1zM625 369h1v2h-1zM626 371h1v2h-1zM627 373h1v2h-1zM628 375h1v1h-1zM629 376h1v2h-1zM630 378h1v2h-1zM631 380h1v2h-1zM632 382h1v2h-1zM633 384h1v2h-1zM634 386h1v1h-1zM635 387h1v2h-1zM636 389h1v2h-1zM637 391h1v2h-1zM638 393h1v2h-1zM639 395h1v2h-1zM640 397h1v2h-1zM641 399h1v2h-1zM642 401h1v2h-1zM643 403h1v2h-1zM644 405h1v2h-1zM645 407h1v3h-1zM646 410h1v4h-1zM647 414h1v5h-1zM648 419h1v5h-1zM649 424h1v4h-1zM650 428h1v4h-1zM651 432h1v3h-1zM652 435h1v3h-1zM653 438h1v3h-1zM654 441h1v4h-1zM655 445h1v3h-1zM656 448h1v3h-1zM657 451h1v3h-1zM658 454h1v4h-1zM659 458h1v4h-1zM660 462h1v3h-1zM661 465h1v4h-1zM662 469h1v4h-1zM663 473h1v3h-1zM664 476h1v2h-1zM665 478h1v2h-1zM666 480h1v2h-1zM667 482h1v2h-1zM668 484h1v2h-1zM669 486h1v2h-1zM670 488h1v2h-1zM671 490h1v2h-1zM672 492h1v1h-1zM673 493h1v1h-1zM674 494h1v1h-1zM675 495h1v1h-1zM676 496h1v1h-1zM677 497h1v1h-1zM678 498h1v2h-1zM679 500h1v1h-1zM680 501h1v1h-1zM681 502h1v1h-1zM682 503h1v1h-1zM683 504h1v1h-1zM684 505h1v1h-1zM685 506h2v1h-2zM687 507h2v1h-2zM689 508h2v1h-2zM691 509h2v1h-2zM693 510h2v1h-2zM695 511h2v1h-2zM697 512h2v1h-2zM699 513h1v1h-1zM700 514h1v1h-1zM701 515h1v1h-1zM702 516h1v1h-1zM703 517h2v1h-2zM705 518h1v1h-1zM706 519h1v1h-1zM707 520h1v1h-1zM708 521h10v1h-10zM718 520h3v1h-3zM721 519h2v1h-2zM723 518h3v1h-3zM726 517h3v1h-3zM729 516h2v1h-2zM731 515h2v1h-2zM733 514h1v1h-1zM734 513h2v1h-2zM736 512h2v1h-2zM738 511h1v1h-1zM739 510h1v1h-1zM740 508h1v2h-1zM741 507h1v1h-1zM742 506h1v1h-1zM743 504h1v2h-1zM744 503h1v1h-1zM745 502h1v1h-1zM746 500h1v2h-1zM747 499h1v1h-1zM748 498h1v1h-1zM749 497h1v1h-1zM750 495h1v2h-1zM751 494h1v1h-1zM752 493h1v1h-1zM753 492h1v1h-1zM754 490h1v2h-1zM755 489h1v1h-1zM756 488h1v1h-1zM757 486h1v2h-1zM758 485h1v1h-1zM759 484h1v1h-1zM760 483h1v1h-1zM761 482h2v1h-2zM763 481h1v1h-1zM764 480h1v1h-1zM765 479h2v1h-2zM767 478h1v1h-1zM768 477h1v1h-1zM769 476h2v1h-2zM771 475h1v1h-1zM772 474h1v1h-1zM773 475h2v1h-2zM775 476h1v1h-1zM776 477h1v1h-1zM777 478h2v1h-2zM779 479h1v1h-1zM780 480h1v1h-1zM781 481h2v1h-2zM783 482h2v1h-2zM785 483h3v1h-3zM788 484h4v1h-4zM792 485h3v1h-3zM795 484h4v1h-4zM799 483h4v1h-4zM803 482h5v1h-5zM808 483h8v1h-8zM816 484h6v1h-6zM822 483h4v1h-4zM826 482h4v1h-4zM830 481h13v1h-13zM843 482h4v1h-4zM847 483h4v1h-4zM851 484h2v1h-2zM853 485h1v2h-1zM854 487h1v1h-1zM855 488h1v2h-1zM856 490h1v2h-1zM857 492h1v1h-1zM858 493h1v1h-1zM859 494h1v2h-1zM860 496h1v1h-1zM861 497h1v1h-1zM862 498h1v2h-1zM863 500h1v1h-1zM864 501h2v1h-2zM866 502h2v1h-2zM868 503h2v1h-2zM870 504h4v1h-4zM874 503h7v1h-7zM881 502h35v1h-35zM916 503h12v1h-12zM928 504h2v1h-2zM930 505h2v1h-2zM932 506h2v1h-2zM934 505h1v1h-1zM935 504h1v1h-1zM936 503h2v1h-2zM938 502h1v1h-1zM939 501h1v1h-1zM940 500h1v1h-1zM941 499h1v1h-1zM942 498h2v1h-2zM944 497h1v1h-1zM945 496h1v1h-1zM946 495h1v1h-1zM947 494h2v1h-2zM949 493h1v1h-1zM950 492h1v1h-1zM951 491h2v1h-2zM953 490h1v1h-1zM954 489h1v1h-1zM955 488h2v1h-2zM957 487h1v1h-1zM958 486h1v1h-1zM959 484h1v2h-1zM960 482h1v2h-1zM961 481h1v1h-1zM962 479h1v2h-1zM963 477h1v2h-1zM964 476h1v1h-1zM965 474h1v2h-1zM966 472h1v2h-1zM967 470h1v2h-1zM968 467h1v3h-1zM969 464h1v3h-1zM970 462h1v2h-1zM971 459h1v3h-1zM972 456h1v3h-1zM973 453h1v3h-1zM974 450h1v3h-1zM975 448h1v2h-1zM976 445h1v3h-1zM977 442h1v3h-1zM978 440h1v2h-1zM979 437h1v3h-1zM980 434h1v3h-1zM981 432h1v2h-1zM982 430h1v2h-1zM983 428h1v2h-1zM984 427h1v1h-1zM985 425h1v2h-1zM986 424h1v1h-1zM987 422h1v2h-1zM988 421h1v1h-1zM989 419h1v2h-1zM990 418h1v1h-1zM991 416h1v2h-1zM992 415h1v1h-1zM993 413h1v2h-1zM994 411h1v2h-1zM995 410h1v1h-1zM996 408h1v2h-1zM997 407h1v1h-1zM998 405h1v2h-1zM999 403h1v2h-1zM1000 402h1v1h-1zM1001 400h1v2h-1zM1002 398h1v2h-1zM1003 396h1v2h-1zM1004 395h1v1h-1zM1005 393h1v2h-1zM1006 391h1v2h-1zM1007 389h1v2h-1zM1008 388h1v1h-1zM1009 387h1v1h-1zM1010 386h2v1h-2zM1012 385h1v1h-1zM1013 384h1v1h-1zM1014 383h1v1h-1zM1015 382h2v1h-2zM1017 381h1v1h-1zM1018 380h1v1h-1zM1019 379h2v1h-2zM1021 378h2v1h-2zM1023 377h2v1h-2zM1025 376h2v1h-2zM1027 375h2v1h-2zM1029 374h2v1h-2zM1031 373h1v1h-1zM1032 372h1v1h-1zM1033 371h1v1h-1zM1034 369h1v2h-1zM1035 368h1v1h-1zM1036 367h1v1h-1zM1037 366h1v1h-1zM1038 365h1v1h-1zM1039 363h1v2h-1zM1040 362h1v1h-1zM1041 361h1v1h-1zM1042 359h1v2h-1zM1043 358h1v1h-1zM1044 356h1v2h-1zM1045 355h1v1h-1zM1046 353h1v2h-1zM1047 352h1v1h-1zM1048 350h1v2h-1zM1049 349h1v1h-1zM1050 347h1v2h-1zM1051 346h1v1h-1zM1052 345h1v1h-1zM1053 344h1v1h-1zM1054 343h1v1h-1zM1055 342h1v1h-1zM1056 341h2v1h-2zM1058 340h1v1h-1zM1059 339h1v1h-1zM1060 338h1v1h-1zM1061 337h5v1h-5zM1066 336h6v1h-6zM1072 337h2v1h-2zM1074 338h1v1h-1zM1075 339h1v1h-1zM1076 340h2v1h-2zM1078 341h1v1h-1zM1079 342h2v1h-2zM1081 343h1v1h-1zM1082 344h1v1h-1zM1083 345h1v1h-1zM1084 346h1v1h-1zM1085 347h1v1h-1zM1086 348h1v1h-1zM1087 349h1v1h-1zM1088 350h2v1h-2zM1090 351h1v1h-1zM1091 352h1v1h-1zM1092 353h1v1h-1zM1093 354h1v1h-1zM1094 355h1v1h-1zM1095 356h1v1h-1zM1096 357h1v2h-1zM1097 359h1v1h-1zM1098 360h1v2h-1zM1099 362h1v1h-1zM1100 363h1v2h-1zM1101 365h1v1h-1zM1102 366h1v2h-1zM1103 368h1v1h-1zM1104 369h1v2h-1zM1105 371h1v1h-1zM1106 372h1v1h-1zM1107 373h1v1h-1zM1108 374h1v1h-1zM1109 375h1v1h-1zM1110 376h1v2h-1zM1111 378h1v1h-1zM1112 379h1v1h-1zM1113 380h1v1h-1zM1114 381h1v1h-1zM1115 382h1v1h-1zM1116 383h2v1h-2zM1118 384h1v1h-1zM1119 385h2v1h-2zM1121 386h1v1h-1zM1122 387h2v1h-2zM1124 388h1v1h-1zM1125 389h2v1h-2zM1127 390h1v1h-1zM1128 391h2v1h-2zM1130 392h2v1h-2zM1132 393h2v1h-2zM1134 394h3v1h-3zM1137 395h2v1h-2zM1139 396h2v1h-2zM1141 397h2v1h-2zM1143 398h1v1h-1zM1144 399h1v1h-1zM1145 400h2v1h-2zM1147 401h1v1h-1zM1148 402h2v1h-2zM1150 403h4v1h-4zM1154 404h6v1h-6zM1160 405h12v1h-12zM1172 404h9v1h-9zM1181 405h2v1h-2zM1183 406h1v1h-1zM1184 407h1v1h-1zM1185 408h2v1h-2zM1187 409h1v1h-1zM1188 410h2v1h-2zM1190 411h2v1h-2zM1192 410h3v1h-3zM1195 409h4v1h-4zM1199 408h4v1h-4zM1203 407h4v1h-4zM1207 406h4v1h-4zM1211 405h9v1h-9zM1220 404h13v1h-13zM1233 405h9v1h-9zM1242 406h2v1h-2zM1244 407h2v1h-2zM1246 408h2v1h-2zM1248 409h2v1h-2zM1250 410h2v1h-2zM1252 411h3v1h-3zM1255 412h2v1h-2zM1257 413h3v1h-3zM1260 414h2v1h-2zM1262 415h8v1h-8zM1270 414h13v1h-13zM1283 413h10v1h-10zM1293 414h6v1h-6zM1299 415h4v1h-4zM1303 414h3v1h-3zM1306 413h3v1h-3zM1309 412h3v1h-3zM1312 411h3v1h-3zM1315 410h3v1h-3zM1318 409h4v1h-4zM1322 408h3v1h-3zM1325 407h6v1h-6zM1331 408h6v1h-6zM1337 409h2v1h-2zM1339 410h2v1h-2zM1341 411h2v1h-2zM1343 410h2v1h-2zM1345 409h3v1h-3zM1348 408h3v1h-3zM1351 409h2v1h-2zM1353 410h2v1h-2zM1355 411h2v1h-2zM1357 412h2v1h-2zM1359 413h2v1h-2zM1361 414h2v1h-2zM1363 415h2v1h-2zM1365 416h2v1h-2zM1367 417h2v1h-2zM1369 418h2v1h-2zM1371 419h1v1h-1zM1372 420h1v1h-1zM1373 421h1v1h-1zM1374 422h1v1h-1zM1375 423h1v1h-1zM1376 424h1v1h-1zM1377 425h1v2h-1zM1378 427h1v2h-1zM1379 429h1v2h-1zM1380 431h1v3h-1zM1381 434h1v3h-1zM1382 437h1v2h-1zM1383 439h1v3h-1zM1384 442h1v3h-1zM1385 445h1v3h-1zM1386 448h1v3h-1zM1387 451h1v3h-1zM1388 454h1v2h-1zM1389 456h1v3h-1zM1390 459h1v3h-1zM1391 462h1v3h-1zM1392 465h1v2h-1zM1393 467h1v2h-1zM1394 469h1v2h-1zM1395 471h1v2h-1zM1396 473h1v2h-1zM1397 475h1v2h-1zM1398 477h1v2h-1zM1399 479h1v2h-1zM1400 481h1v2h-1zM1401 483h1v2h-1zM1402 485h1v2h-1zM1403 487h1v2h-1zM1404 489h1v3h-1zM1405 492h1v2h-1zM1406 494h1v2h-1zM1407 496h1v2h-1zM1408 498h1v2h-1zM1409 500h1v2h-1zM1410 502h1v2h-1zM1411 504h1v2h-1zM1412 506h1v2h-1zM1413 508h1v2h-1zM1414 510h1v1h-1z" fill="#3cb371"/>
<rect x="0" y="460" width="1648" height="1" fill="#ff0000" />
<rect x="0" y="486" width="1648" height="1" fill="#ff0000" />
<rect x="0" y="509" width="1648" height="1" fill="#32cd32" />
<rect x="0" y="522" width="1648" height="1" fill="#c0c0c0" />
<rect x="0" y="543" width="1648" height="1" fill="#0000ff" />
<rect x="0" y="564" width="1648" height="1" fill="#0000ff" />
<rect x="942" y="204" width="62" height="19" fill="#ff0000" />
<rect x="943" y="205" width="60" height="17" fill="#fff" />
<text x="973.2" y="220" font-size="17" fill="#ff0000" text-anchor="middle" textLength="58.6" lengthAdjust="spacingAndGlyphs" font-family="Liberation Sans" style="text-rendering:geometricPrecision">26247.8</text>
<rect x="1190" y="262" width="62" height="19" fill="#ff0000" />
<rect x="1191" y="263" width="60" height="17" fill="#fff" />
<text x="1221.2" y="278" font-size="17" fill="#ff0000" text-anchor="middle" textLength="58.6" lengthAdjust="spacingAndGlyphs" font-family="Liberation Sans" style="text-rendering:geometricPrecision">25732.3</text>
<rect x="1118" y="406" width="62" height="19" fill="#ff0000" />
<rect x="1119" y="407" width="60" height="17" fill="#fff" />
<text x="1149.2" y="422" font-size="17" fill="#ff0000" text-anchor="middle" textLength="58.6" lengthAdjust="spacingAndGlyphs" font-family="Liberation Sans" style="text-rendering:geometricPrecision">24432.5</text>
<rect x="808" y="494" width="62" height="19" fill="#ff0000" />
<rect x="809" y="495" width="60" height="17" fill="#fff" />
<text x="839.2" y="510" font-size="17" fill="#ff0000" text-anchor="middle" textLength="58.6" lengthAdjust="spacingAndGlyphs" font-family="Liberation Sans" style="text-rendering:geometricPrecision">23641.3</text>
<rect x="1350" y="555" width="62" height="19" fill="#ff0000" />
<rect x="1351" y="556" width="60" height="17" fill="#fff" />
<text x="1381.2" y="571" font-size="17" fill="#ff0000" text-anchor="middle" textLength="58.6" lengthAdjust="spacingAndGlyphs" font-family="Liberation Sans" style="text-rendering:geometricPrecision">23092.9</text>
<rect x="1272" y="497" width="74" height="25" fill="#ff0000" />
<rect x="1273" y="498" width="72" height="23" fill="#fff" />
<text x="1309.2" y="518" font-size="22.3" fill="#ff0000" text-anchor="middle" textLength="71.6" lengthAdjust="spacingAndGlyphs" font-family="Liberation Sans" style="text-rendering:geometricPrecision">23587.5</text>
<rect x="1273" y="522" width="73" height="1" fill="#eef6f6" />
<rect x="1004" y="213" width="10" height="1" fill="#ff0000" />
<rect x="1252" y="271" width="10" height="1" fill="#ff0000" />
<rect x="1180" y="415" width="10" height="1" fill="#ff0000" />
<rect x="797" y="503" width="11" height="1" fill="#ff0000" />
<rect x="1415" y="564" width="6" height="1" fill="#ff0000" />
<rect x="1262" y="509" width="7" height="1" fill="#ff0000" />
<rect x="1412" y="562" width="3" height="5" fill="#ff0000" />
<rect x="1413" y="563" width="1" height="3" fill="#fff" />
<rect x="1269" y="507" width="3" height="5" fill="#ff0000" />
<rect x="1270" y="508" width="1" height="3" fill="#fff" />
<rect x="1643" y="484" width="5" height="5" fill="#ff0000" />
<rect x="1644" y="485" width="3" height="3" fill="#fff" />
<rect x="1643" y="507" width="5" height="5" fill="#32cd32" />
<rect x="1644" y="508" width="3" height="3" fill="#fff" />
<rect x="1643" y="541" width="5" height="5" fill="#0000ff" />
<rect x="1644" y="542" width="3" height="3" fill="#fff" />
<rect x="1643" y="562" width="5" height="5" fill="#0000ff" />
<rect x="1644" y="563" width="3" height="3" fill="#fff" />
<rect x="13" y="142" width="1" height="48" fill="#000" />
<rect x="11" y="142" width="5" height="40" fill="#000" />
<rect x="21" y="181" width="1" height="50" fill="#000" />
<rect x="19" y="183" width="5" height="46" fill="#000" />
<rect x="29" y="204" width="1" height="68" fill="#000" />
<rect x="27" y="229" width="5" height="19" fill="#000" />
<rect x="37" y="246" width="1" height="134" fill="#000" />
<rect x="35" y="246" width="5" height="103" fill="#000" />
<rect x="45" y="296" width="1" height="70" fill="#000" />
<rect x="43" y="319" width="5" height="36" fill="#000" />
<rect x="53" y="307" width="1" height="67" fill="#000" />
<rect x="51" y="318" width="5" height="39" fill="#000" />
<rect x="52" y="319" width="3" height="37" fill="#fff" />
<rect x="61" y="225" width="1" height="44" fill="#000" />
<rect x="59" y="236" width="5" height="1" fill="#000" />
<rect x="69" y="213" width="1" height="27" fill="#000" />
<rect x="67" y="219" width="5" height="18" fill="#000" />
<rect x="68" y="220" width="3" height="16" fill="#fff" />
<rect x="77" y="232" width="1" height="50" fill="#000" />
<rect x="75" y="255" width="5" height="21" fill="#000" />
<rect x="85" y="250" width="1" height="41" fill="#000" />
<rect x="83" y="253" width="5" height="29" fill="#000" />
<rect x="84" y="254" width="3" height="27" fill="#fff" />
<rect x="93" y="215" width="1" height="64" fill="#000" />
<rect x="91" y="227" width="5" height="19" fill="#000" />
<rect x="92" y="228" width="3" height="17" fill="#fff" />
<rect x="101" y="215" width="1" height="22" fill="#000" />
<rect x="99" y="228" width="5" height="1" fill="#000" />
<rect x="109" y="223" width="1" height="52" fill="#000" />
<rect x="107" y="226" width="5" height="26" fill="#000" />
<rect x="117" y="220" width="1" height="31" fill="#000" />
<rect x="115" y="235" width="5" height="16" fill="#000" />
<rect x="116" y="236" width="3" height="14" fill="#fff" />
<rect x="125" y="177" width="1" height="73" fill="#000" />
<rect x="123" y="181" width="5" height="59" fill="#000" />
<rect x="124" y="182" width="3" height="57" fill="#fff" />
<rect x="133" y="182" width="1" height="28" fill="#000" />
<rect x="131" y="182" width="5" height="20" fill="#000" />
<rect x="141" y="188" width="1" height="31" fill="#000" />
<rect x="139" y="203" width="5" height="6" fill="#000" />
<rect x="149" y="200" width="1" height="36" fill="#000" />
<rect x="147" y="207" width="5" height="22" fill="#000" />
<rect x="157" y="216" width="1" height="37" fill="#000" />
<rect x="155" y="218" width="5" height="10" fill="#000" />
<rect x="165" y="218" width="1" height="19" fill="#000" />
<rect x="163" y="228" width="5" height="2" fill="#000" />
<rect x="173" y="189" width="1" height="74" fill="#000" />
<rect x="171" y="202" width="5" height="51" fill="#000" />
<rect x="172" y="203" width="3" height="49" fill="#fff" />
<rect x="181" y="201" width="1" height="24" fill="#000" />
<rect x="179" y="202" width="5" height="16" fill="#000" />
<rect x="189" y="197" width="1" height="42" fill="#000" />
<rect x="187" y="198" width="5" height="15" fill="#000" />
<rect x="197" y="183" width="1" height="32" fill="#000" />
<rect x="195" y="190" width="5" height="23" fill="#000" />
<rect x="196" y="191" width="3" height="21" fill="#fff" />
<rect x="205" y="161" width="1" height="48" fill="#000" />
<rect x="203" y="180" width="5" height="21" fill="#000" />
<rect x="204" y="181" width="3" height="19" fill="#fff" />
<rect x="213" y="178" width="1" height="13" fill="#000" />
<rect x="211" y="182" width="5" height="2" fill="#000" />
<rect x="221" y="173" width="1" height="23" fill="#000" />
<rect x="219" y="181" width="5" height="4" fill="#000" />
<rect x="220" y="182" width="3" height="2" fill="#fff" />
<rect x="229" y="181" width="1" height="28" fill="#000" />
<rect x="227" y="183" width="5" height="16" fill="#000" />
<rect x="237" y="192" width="1" height="40" fill="#000" />
<rect x="235" y="217" width="5" height="5" fill="#000" />
<rect x="236" y="218" width="3" height="3" fill="#fff" />
<rect x="245" y="203" width="1" height="25" fill="#000" />
<rect x="243" y="207" width="5" height="10" fill="#000" />
<rect x="244" y="208" width="3" height="8" fill="#fff" />
<rect x="253" y="199" width="1" height="40" fill="#000" />
<rect x="251" y="201" width="5" height="26" fill="#000" />
<rect x="261" y="221" width="1" height="22" fill="#000" />
<rect x="259" y="225" width="5" height="8" fill="#000" />
<rect x="269" y="219" width="1" height="32" fill="#000" />
<rect x="267" y="232" width="5" height="15" fill="#000" />
<rect x="277" y="245" width="1" height="46" fill="#000" />
<rect x="275" y="246" width="5" height="32" fill="#000" />
<rect x="285" y="250" width="1" height="30" fill="#000" />
<rect x="283" y="257" width="5" height="22" fill="#000" />
<rect x="284" y="258" width="3" height="20" fill="#fff" />
<rect x="293" y="247" width="1" height="25" fill="#000" />
<rect x="291" y="257" width="5" height="14" fill="#000" />
<rect x="301" y="265" width="1" height="54" fill="#000" />
<rect x="299" y="271" width="5" height="42" fill="#000" />
<rect x="309" y="293" width="1" height="43" fill="#000" />
<rect x="307" y="313" width="5" height="18" fill="#000" />
<rect x="317" y="313" width="1" height="90" fill="#000" />
<rect x="315" y="316" width="5" height="70" fill="#000" />
<rect x="325" y="359" width="1" height="40" fill="#000" />
<rect x="323" y="377" width="5" height="10" fill="#000" />
<rect x="324" y="378" width="3" height="8" fill="#fff" />
<rect x="333" y="303" width="1" height="45" fill="#000" />
<rect x="331" y="319" width="5" height="29" fill="#000" />
<rect x="332" y="320" width="3" height="27" fill="#fff" />
<rect x="341" y="316" width="1" height="35" fill="#000" />
<rect x="339" y="318" width="5" height="26" fill="#000" />
<rect x="349" y="287" width="1" height="31" fill="#000" />
<rect x="347" y="299" width="5" height="12" fill="#000" />
<rect x="348" y="300" width="3" height="10" fill="#fff" />
<rect x="357" y="274" width="1" height="30" fill="#000" />
<rect x="355" y="281" width="5" height="21" fill="#000" />
<rect x="356" y="282" width="3" height="19" fill="#fff" />
<rect x="365" y="247" width="1" height="47" fill="#000" />
<rect x="363" y="271" width="5" height="15" fill="#000" />
<rect x="373" y="273" width="1" height="21" fill="#000" />
<rect x="371" y="277" width="5" height="9" fill="#000" />
<rect x="372" y="278" width="3" height="7" fill="#fff" />
<rect x="381" y="277" width="1" height="44" fill="#000" />
<rect x="379" y="289" width="5" height="30" fill="#000" />
<rect x="389" y="305" width="1" height="23" fill="#000" />
<rect x="387" y="306" width="5" height="13" fill="#000" />
<rect x="388" y="307" width="3" height="11" fill="#fff" />
<rect x="397" y="291" width="1" height="39" fill="#000" />
<rect x="395" y="305" width="5" height="21" fill="#000" />
<rect x="396" y="306" width="3" height="19" fill="#fff" />
<rect x="405" y="305" width="1" height="25" fill="#000" />
<rect x="403" y="305" width="5" height="20" fill="#000" />
<rect x="413" y="304" width="1" height="40" fill="#000" />
<rect x="411" y="314" width="5" height="4" fill="#000" />
<rect x="412" y="315" width="3" height="2" fill="#fff" />
<rect x="421" y="299" width="1" height="25" fill="#000" />
<rect x="419" y="306" width="5" height="9" fill="#000" />
<rect x="420" y="307" width="3" height="7" fill="#fff" />
<rect x="429" y="304" width="1" height="49" fill="#000" />
<rect x="427" y="309" width="5" height="37" fill="#000" />
<rect x="437" y="265" width="1" height="78" fill="#000" />
<rect x="435" y="269" width="5" height="74" fill="#000" />
<rect x="436" y="270" width="3" height="72" fill="#fff" />
<rect x="445" y="246" width="1" height="43" fill="#000" />
<rect x="443" y="251" width="5" height="29" fill="#000" />
<rect x="444" y="252" width="3" height="27" fill="#fff" />
<rect x="453" y="245" width="1" height="14" fill="#000" />
<rect x="451" y="250" width="5" height="3" fill="#000" />
<rect x="452" y="251" width="3" height="1" fill="#fff" />
<rect x="461" y="212" width="1" height="39" fill="#000" />
<rect x="459" y="237" width="5" height="8" fill="#000" />
<rect x="469" y="236" width="1" height="18" fill="#000" />
<rect x="467" y="239" width="5" height="5" fill="#000" />
<rect x="468" y="240" width="3" height="3" fill="#fff" />
<rect x="477" y="244" width="1" height="29" fill="#000" />
<rect x="475" y="253" width="5" height="4" fill="#000" />
<rect x="485" y="253" width="1" height="18" fill="#000" />
<rect x="483" y="256" width="5" height="3" fill="#000" />
<rect x="493" y="237" width="1" height="38" fill="#000" />
<rect x="491" y="246" width="5" height="16" fill="#000" />
<rect x="492" y="247" width="3" height="14" fill="#fff" />
<rect x="501" y="229" width="1" height="21" fill="#000" />
<rect x="499" y="233" width="5" height="15" fill="#000" />
<rect x="500" y="234" width="3" height="13" fill="#fff" />
<rect x="509" y="201" width="1" height="38" fill="#000" />
<rect x="507" y="215" width="5" height="13" fill="#000" />
<rect x="508" y="216" width="3" height="11" fill="#fff" />
<rect x="517" y="198" width="1" height="22" fill="#000" />
<rect x="515" y="215" width="5" height="2" fill="#000" />
<rect x="525" y="189" width="1" height="45" fill="#000" />
<rect x="523" y="212" width="5" height="18" fill="#000" />
<rect x="533" y="214" width="1" height="16" fill="#000" />
<rect x="531" y="218" width="5" height="12" fill="#000" />
<rect x="532" y="219" width="3" height="10" fill="#fff" />
<rect x="541" y="235" width="1" height="30" fill="#000" />
<rect x="539" y="250" width="5" height="8" fill="#000" />
<rect x="549" y="259" width="1" height="30" fill="#000" />
<rect x="547" y="259" width="5" height="23" fill="#000" />
<rect x="557" y="226" width="1" height="41" fill="#000" />
<rect x="555" y="231" width="5" height="33" fill="#000" />
<rect x="556" y="232" width="3" height="31" fill="#fff" />
<rect x="565" y="222" width="1" height="15" fill="#000" />
<rect x="563" y="226" width="5" height="6" fill="#000" />
<rect x="564" y="227" width="3" height="4" fill="#fff" />
<rect x="573" y="250" width="1" height="34" fill="#000" />
<rect x="571" y="250" width="5" height="32" fill="#000" />
<rect x="581" y="263" width="1" height="31" fill="#000" />
<rect x="579" y="265" width="5" height="17" fill="#000" />
<rect x="580" y="266" width="3" height="15" fill="#fff" />
<rect x="589" y="254" width="1" height="34" fill="#000" />
<rect x="587" y="263" width="5" height="8" fill="#000" />
<rect x="597" y="269" width="1" height="48" fill="#000" />
<rect x="595" y="269" width="5" height="36" fill="#000" />
<rect x="605" y="307" width="1" height="34" fill="#000" />
<rect x="603" y="317" width="5" height="8" fill="#000" />
<rect x="613" y="322" width="1" height="33" fill="#000" />
<rect x="611" y="323" width="5" height="26" fill="#000" />
<rect x="621" y="346" width="1" height="61" fill="#000" />
<rect x="619" y="353" width="5" height="54" fill="#000" />
<rect x="629" y="388" width="1" height="23" fill="#000" />
<rect x="627" y="391" width="5" height="15" fill="#000" />
<rect x="628" y="392" width="3" height="13" fill="#fff" />
<rect x="637" y="372" width="1" height="47" fill="#000" />
<rect x="635" y="380" width="5" height="12" fill="#000" />
<rect x="636" y="381" width="3" height="10" fill="#fff" />
<rect x="645" y="361" width="1" height="28" fill="#000" />
<rect x="643" y="367" width="5" height="15" fill="#000" />
<rect x="644" y="368" width="3" height="13" fill="#fff" />
<rect x="653" y="385" width="1" height="98" fill="#000" />
<rect x="651" y="391" width="5" height="82" fill="#000" />
<rect x="661" y="447" width="1" height="29" fill="#000" />
<rect x="659" y="457" width="5" height="17" fill="#000" />
<rect x="660" y="458" width="3" height="15" fill="#fff" />
<rect x="669" y="444" width="1" height="46" fill="#000" />
<rect x="667" y="464" width="5" height="6" fill="#000" />
<rect x="668" y="465" width="3" height="4" fill="#fff" />
<rect x="677" y="435" width="1" height="42" fill="#000" />
<rect x="675" y="445" width="5" height="20" fill="#000" />
<rect x="676" y="446" width="3" height="18" fill="#fff" />
<rect x="685" y="376" width="1" height="49" fill="#000" />
<rect x="683" y="413" width="5" height="11" fill="#000" />
<rect x="693" y="405" width="1" height="28" fill="#000" />
<rect x="691" y="407" width="5" height="15" fill="#000" />
<rect x="692" y="408" width="3" height="13" fill="#fff" />
<rect x="701" y="398" width="1" height="35" fill="#000" />
<rect x="699" y="412" width="5" height="12" fill="#000" />
<rect x="700" y="413" width="3" height="10" fill="#fff" />
<rect x="709" y="407" width="1" height="53" fill="#000" />
<rect x="707" y="413" width="5" height="33" fill="#000" />
<rect x="717" y="409" width="1" height="55" fill="#000" />
<rect x="715" y="435" width="5" height="29" fill="#000" />
<rect x="716" y="436" width="3" height="27" fill="#fff" />
<rect x="725" y="424" width="1" height="27" fill="#000" />
<rect x="723" y="436" width="5" height="9" fill="#000" />
<rect x="733" y="395" width="1" height="52" fill="#000" />
<rect x="731" y="409" width="5" height="34" fill="#000" />
<rect x="732" y="410" width="3" height="32" fill="#fff" />
<rect x="741" y="393" width="1" height="29" fill="#000" />
<rect x="739" y="407" width="5" height="9" fill="#000" />
<rect x="749" y="418" width="1" height="47" fill="#000" />
<rect x="747" y="428" width="5" height="8" fill="#000" />
<rect x="748" y="429" width="3" height="6" fill="#fff" />
<rect x="757" y="390" width="1" height="41" fill="#000" />
<rect x="755" y="407" width="5" height="20" fill="#000" />
<rect x="756" y="408" width="3" height="18" fill="#fff" />
<rect x="765" y="402" width="1" height="30" fill="#000" />
<rect x="763" y="418" width="5" height="4" fill="#000" />
<rect x="764" y="419" width="3" height="2" fill="#fff" />
<rect x="773" y="394" width="1" height="27" fill="#000" />
<rect x="771" y="406" width="5" height="14" fill="#000" />
<rect x="772" y="407" width="3" height="12" fill="#fff" />
<rect x="781" y="419" width="1" height="63" fill="#000" />
<rect x="779" y="427" width="5" height="42" fill="#000" />
<rect x="789" y="455" width="1" height="23" fill="#000" />
<rect x="787" y="465" width="5" height="3" fill="#000" />
<rect x="797" y="451" width="1" height="53" fill="#000" />
<rect x="795" y="453" width="5" height="27" fill="#000" />
<rect x="796" y="454" width="3" height="25" fill="#fff" />
<rect x="805" y="444" width="1" height="22" fill="#000" />
<rect x="803" y="455" width="5" height="3" fill="#000" />
<rect x="813" y="441" width="1" height="52" fill="#000" />
<rect x="811" y="441" width="5" height="31" fill="#000" />
<rect x="821" y="454" width="1" height="27" fill="#000" />
<rect x="819" y="468" width="5" height="7" fill="#000" />
<rect x="820" y="469" width="3" height="5" fill="#fff" />
<rect x="829" y="401" width="1" height="40" fill="#000" />
<rect x="827" y="408" width="5" height="33" fill="#000" />
<rect x="828" y="409" width="3" height="31" fill="#fff" />
<rect x="837" y="384" width="1" height="30" fill="#000" />
<rect x="835" y="394" width="5" height="19" fill="#000" />
<rect x="836" y="395" width="3" height="17" fill="#fff" />
<rect x="845" y="354" width="1" height="48" fill="#000" />
<rect x="843" y="365" width="5" height="34" fill="#000" />
<rect x="853" y="372" width="1" height="29" fill="#000" />
<rect x="851" y="372" width="5" height="28" fill="#000" />
<rect x="852" y="373" width="3" height="26" fill="#fff" />
<rect x="861" y="315" width="1" height="41" fill="#000" />
<rect x="859" y="316" width="5" height="40" fill="#000" />
<rect x="860" y="317" width="3" height="38" fill="#fff" />
<rect x="869" y="310" width="1" height="20" fill="#000" />
<rect x="867" y="315" width="5" height="9" fill="#000" />
<rect x="877" y="337" width="1" height="32" fill="#000" />
<rect x="875" y="350" width="5" height="15" fill="#000" />
<rect x="876" y="351" width="3" height="13" fill="#fff" />
<rect x="885" y="346" width="1" height="28" fill="#000" />
<rect x="883" y="350" width="5" height="14" fill="#000" />
<rect x="891" y="356" width="5" height="1" fill="#000" />
<rect x="901" y="328" width="1" height="41" fill="#000" />
<rect x="899" y="336" width="5" height="4" fill="#000" />
<rect x="909" y="315" width="1" height="25" fill="#000" />
<rect x="907" y="318" width="5" height="21" fill="#000" />
<rect x="908" y="319" width="3" height="19" fill="#fff" />
<rect x="917" y="304" width="1" height="40" fill="#000" />
<rect x="915" y="308" width="5" height="23" fill="#000" />
<rect x="925" y="301" width="1" height="44" fill="#000" />
<rect x="923" y="304" width="5" height="29" fill="#000" />
<rect x="924" y="305" width="3" height="27" fill="#fff" />
<rect x="933" y="264" width="1" height="40" fill="#000" />
<rect x="931" y="276" width="5" height="22" fill="#000" />
<rect x="932" y="277" width="3" height="20" fill="#fff" />
<rect x="941" y="263" width="1" height="17" fill="#000" />
<rect x="939" y="268" width="5" height="11" fill="#000" />
<rect x="940" y="269" width="3" height="9" fill="#fff" />
<rect x="949" y="221" width="1" height="37" fill="#000" />
<rect x="947" y="228" width="5" height="20" fill="#000" />
<rect x="948" y="229" width="3" height="18" fill="#fff" />
<rect x="957" y="221" width="1" height="21" fill="#000" />
<rect x="955" y="224" width="5" height="7" fill="#000" />
<rect x="956" y="225" width="3" height="5" fill="#fff" />
<rect x="965" y="218" width="1" height="22" fill="#000" />
<rect x="963" y="229" width="5" height="8" fill="#000" />
<rect x="973" y="237" width="1" height="25" fill="#000" />
<rect x="971" y="238" width="5" height="9" fill="#000" />
<rect x="981" y="223" width="1" height="25" fill="#000" />
<rect x="979" y="227" width="5" height="7" fill="#000" />
<rect x="989" y="226" width="1" height="18" fill="#000" />
<rect x="987" y="229" width="5" height="3" fill="#000" />
<rect x="988" y="230" width="3" height="1" fill="#fff" />
<rect x="997" y="220" width="1" height="35" fill="#000" />
<rect x="995" y="227" width="5" height="16" fill="#000" />
<rect x="996" y="228" width="3" height="14" fill="#fff" />
<rect x="1005" y="221" width="1" height="13" fill="#000" />
<rect x="1003" y="223" width="5" height="5" fill="#000" />
<rect x="1013" y="213" width="1" height="31" fill="#000" />
<rect x="1011" y="216" width="5" height="24" fill="#000" />
<rect x="1021" y="235" width="1" height="19" fill="#000" />
<rect x="1019" y="238" width="5" height="1" fill="#000" />
<rect x="1029" y="265" width="1" height="32" fill="#000" />
<rect x="1027" y="269" width="5" height="21" fill="#000" />
<rect x="1037" y="284" width="1" height="13" fill="#000" />
<rect x="1035" y="287" width="5" height="2" fill="#000" />
<rect x="1045" y="274" width="1" height="30" fill="#000" />
<rect x="1043" y="291" width="5" height="4" fill="#000" />
<rect x="1053" y="284" width="1" height="25" fill="#000" />
<rect x="1051" y="293" width="5" height="14" fill="#000" />
<rect x="1061" y="300" width="1" height="25" fill="#000" />
<rect x="1059" y="300" width="5" height="10" fill="#000" />
<rect x="1069" y="304" width="1" height="18" fill="#000" />
<rect x="1067" y="310" width="5" height="10" fill="#000" />
<rect x="1077" y="319" width="1" height="43" fill="#000" />
<rect x="1075" y="322" width="5" height="27" fill="#000" />
<rect x="1085" y="337" width="1" height="13" fill="#000" />
<rect x="1083" y="341" width="5" height="8" fill="#000" />
<rect x="1084" y="342" width="3" height="6" fill="#fff" />
<rect x="1093" y="284" width="1" height="44" fill="#000" />
<rect x="1091" y="299" width="5" height="22" fill="#000" />
<rect x="1101" y="319" width="1" height="35" fill="#000" />
<rect x="1099" y="319" width="5" height="35" fill="#000" />
<rect x="1109" y="336" width="1" height="44" fill="#000" />
<rect x="1107" y="361" width="5" height="14" fill="#000" />
<rect x="1117" y="349" width="1" height="28" fill="#000" />
<rect x="1115" y="352" width="5" height="24" fill="#000" />
<rect x="1116" y="353" width="3" height="22" fill="#fff" />
<rect x="1125" y="331" width="1" height="26" fill="#000" />
<rect x="1123" y="340" width="5" height="9" fill="#000" />
<rect x="1133" y="327" width="1" height="27" fill="#000" />
<rect x="1131" y="331" width="5" height="18" fill="#000" />
<rect x="1132" y="332" width="3" height="16" fill="#fff" />
<rect x="1141" y="351" width="1" height="31" fill="#000" />
<rect x="1139" y="358" width="5" height="6" fill="#000" />
<rect x="1140" y="359" width="3" height="4" fill="#fff" />
<rect x="1149" y="356" width="1" height="34" fill="#000" />
<rect x="1147" y="358" width="5" height="11" fill="#000" />
<rect x="1157" y="371" width="1" height="25" fill="#000" />
<rect x="1155" y="383" width="5" height="7" fill="#000" />
<rect x="1156" y="384" width="3" height="5" fill="#fff" />
<rect x="1165" y="375" width="1" height="16" fill="#000" />
<rect x="1163" y="381" width="5" height="4" fill="#000" />
<rect x="1164" y="382" width="3" height="2" fill="#fff" />
<rect x="1173" y="355" width="1" height="38" fill="#000" />
<rect x="1171" y="370" width="5" height="15" fill="#000" />
<rect x="1181" y="371" width="1" height="15" fill="#000" />
<rect x="1179" y="377" width="5" height="9" fill="#000" />
<rect x="1180" y="378" width="3" height="7" fill="#fff" />
<rect x="1189" y="372" width="1" height="44" fill="#000" />
<rect x="1187" y="387" width="5" height="24" fill="#000" />
<rect x="1197" y="349" width="1" height="66" fill="#000" />
<rect x="1195" y="350" width="5" height="62" fill="#000" />
<rect x="1196" y="351" width="3" height="60" fill="#fff" />
<rect x="1205" y="340" width="1" height="39" fill="#000" />
<rect x="1203" y="361" width="5" height="13" fill="#000" />
<rect x="1204" y="362" width="3" height="11" fill="#fff" />
<rect x="1213" y="318" width="1" height="48" fill="#000" />
<rect x="1211" y="331" width="5" height="33" fill="#000" />
<rect x="1212" y="332" width="3" height="31" fill="#fff" />
<rect x="1221" y="294" width="1" height="32" fill="#000" />
<rect x="1219" y="299" width="5" height="24" fill="#000" />
<rect x="1229" y="314" width="1" height="19" fill="#000" />
<rect x="1227" y="318" width="5" height="4" fill="#000" />
<rect x="1228" y="319" width="3" height="2" fill="#fff" />
<rect x="1237" y="304" width="1" height="29" fill="#000" />
<rect x="1235" y="309" width="5" height="17" fill="#000" />
<rect x="1245" y="308" width="1" height="19" fill="#000" />
<rect x="1243" y="311" width="5" height="14" fill="#000" />
<rect x="1244" y="312" width="3" height="12" fill="#fff" />
<rect x="1253" y="279" width="1" height="36" fill="#000" />
<rect x="1251" y="281" width="5" height="33" fill="#000" />
<rect x="1252" y="282" width="3" height="31" fill="#fff" />
<rect x="1261" y="270" width="1" height="19" fill="#000" />
<rect x="1259" y="282" width="5" height="1" fill="#000" />
<rect x="1269" y="282" width="1" height="14" fill="#000" />
<rect x="1267" y="290" width="5" height="4" fill="#000" />
<rect x="1277" y="281" width="1" height="16" fill="#000" />
<rect x="1275" y="283" width="5" height="9" fill="#000" />
<rect x="1276" y="284" width="3" height="7" fill="#fff" />
<rect x="1285" y="311" width="1" height="21" fill="#000" />
<rect x="1283" y="313" width="5" height="12" fill="#000" />
<rect x="1293" y="316" width="1" height="13" fill="#000" />
<rect x="1291" y="318" width="5" height="5" fill="#000" />
<rect x="1292" y="319" width="3" height="3" fill="#fff" />
<rect x="1301" y="350" width="1" height="28" fill="#000" />
<rect x="1299" y="360" width="5" height="12" fill="#000" />
<rect x="1309" y="348" width="1" height="26" fill="#000" />
<rect x="1307" y="354" width="5" height="19" fill="#000" />
<rect x="1308" y="355" width="3" height="17" fill="#fff" />
<rect x="1317" y="342" width="1" height="21" fill="#000" />
<rect x="1315" y="354" width="5" height="4" fill="#000" />
<rect x="1325" y="355" width="1" height="15" fill="#000" />
<rect x="1323" y="357" width="5" height="6" fill="#000" />
<rect x="1333" y="375" width="1" height="17" fill="#000" />
<rect x="1331" y="388" width="5" height="4" fill="#000" />
<rect x="1332" y="389" width="3" height="2" fill="#fff" />
<rect x="1341" y="384" width="1" height="19" fill="#000" />
<rect x="1339" y="387" width="5" height="16" fill="#000" />
<rect x="1349" y="386" width="1" height="19" fill="#000" />
<rect x="1347" y="394" width="5" height="7" fill="#000" />
<rect x="1348" y="395" width="3" height="5" fill="#fff" />
<rect x="1357" y="369" width="1" height="30" fill="#000" />
<rect x="1355" y="387" width="5" height="11" fill="#000" />
<rect x="1356" y="388" width="3" height="9" fill="#fff" />
<rect x="1365" y="382" width="1" height="26" fill="#000" />
<rect x="1363" y="386" width="5" height="3" fill="#000" />
<rect x="1364" y="387" width="3" height="1" fill="#fff" />
<rect x="1373" y="379" width="1" height="12" fill="#000" />
<rect x="1371" y="381" width="5" height="6" fill="#000" />
<rect x="1372" y="382" width="3" height="4" fill="#fff" />
<rect x="1381" y="410" width="1" height="37" fill="#000" />
<rect x="1379" y="410" width="5" height="36" fill="#000" />
<rect x="1389" y="443" width="1" height="21" fill="#000" />
<rect x="1387" y="444" width="5" height="17" fill="#000" />
<rect x="1397" y="449" width="1" height="34" fill="#000" />
<rect x="1395" y="472" width="5" height="6" fill="#000" />
<rect x="1396" y="473" width="3" height="4" fill="#fff" />
<rect x="1405" y="472" width="1" height="23" fill="#000" />
<rect x="1403" y="476" width="5" height="19" fill="#000" />
<rect x="1413" y="479" width="1" height="44" fill="#000" />
<rect x="1411" y="482" width="5" height="34" fill="#000" />
<rect x="1421" y="512" width="1" height="53" fill="#000" />
<rect x="1419" y="515" width="5" height="9" fill="#000" />
<rect x="5" y="103" width="1" height="6" fill="#000" />
<rect x="5" y="644" width="1" height="25" fill="#c0c0c0" />
<rect x="13" y="644" width="1" height="34" fill="#c0c0c0" />
<rect x="21" y="644" width="1" height="47" fill="#c0c0c0" />
<rect x="29" y="644" width="1" height="57" fill="#c0c0c0" />
<rect x="37" y="644" width="1" height="74" fill="#c0c0c0" />
<rect x="45" y="644" width="1" height="90" fill="#c0c0c0" />
<rect x="53" y="644" width="1" height="96" fill="#c0c0c0" />
<rect x="61" y="644" width="1" height="91" fill="#c0c0c0" />
<rect x="69" y="644" width="1" height="84" fill="#c0c0c0" />
<rect x="77" y="644" width="1" height="84" fill="#c0c0c0" />
<rect x="85" y="644" width="1" height="80" fill="#c0c0c0" />
<rect x="93" y="644" width="1" height="75" fill="#c0c0c0" />
<rect x="101" y="644" width="1" height="69" fill="#c0c0c0" />
<rect x="109" y="644" width="1" height="66" fill="#c0c0c0" />
<rect x="117" y="644" width="1" height="61" fill="#c0c0c0" />
<rect x="125" y="644" width="1" height="50" fill="#c0c0c0" />
<rect x="133" y="644" width="1" height="44" fill="#c0c0c0" />
<rect x="141" y="644" width="1" height="40" fill="#c0c0c0" />
<rect x="149" y="644" width="1" height="38" fill="#c0c0c0" />
<rect x="157" y="644" width="1" height="36" fill="#c0c0c0" />
<rect x="165" y="644" width="1" height="34" fill="#c0c0c0" />
<rect x="173" y="644" width="1" height="30" fill="#c0c0c0" />
<rect x="181" y="644" width="1" height="28" fill="#c0c0c0" />
<rect x="189" y="644" width="1" height="26" fill="#c0c0c0" />
<rect x="197" y="644" width="1" height="19" fill="#c0c0c0" />
<rect x="205" y="644" width="1" height="14" fill="#c0c0c0" />
<rect x="213" y="644" width="1" height="10" fill="#c0c0c0" />
<rect x="221" y="644" width="1" height="7" fill="#c0c0c0" />
<rect x="229" y="644" width="1" height="7" fill="#c0c0c0" />
<rect x="237" y="644" width="1" height="7" fill="#c0c0c0" />
<rect x="245" y="644" width="1" height="8" fill="#c0c0c0" />
<rect x="253" y="644" width="1" height="9" fill="#c0c0c0" />
<rect x="261" y="644" width="1" height="11" fill="#c0c0c0" />
<rect x="269" y="644" width="1" height="14" fill="#c0c0c0" />
<rect x="277" y="644" width="1" height="20" fill="#c0c0c0" />
<rect x="285" y="644" width="1" height="20" fill="#c0c0c0" />
<rect x="293" y="644" width="1" height="24" fill="#c0c0c0" />
<rect x="301" y="644" width="1" height="30" fill="#c0c0c0" />
<rect x="309" y="644" width="1" height="36" fill="#c0c0c0" />
<rect x="317" y="644" width="1" height="47" fill="#c0c0c0" />
<rect x="325" y="644" width="1" height="54" fill="#c0c0c0" />
<rect x="333" y="644" width="1" height="52" fill="#c0c0c0" />
<rect x="341" y="644" width="1" height="53" fill="#c0c0c0" />
<rect x="349" y="644" width="1" height="49" fill="#c0c0c0" />
<rect x="357" y="644" width="1" height="42" fill="#c0c0c0" />
<rect x="365" y="644" width="1" height="37" fill="#c0c0c0" />
<rect x="373" y="644" width="1" height="33" fill="#c0c0c0" />
<rect x="381" y="644" width="1" height="32" fill="#c0c0c0" />
<rect x="389" y="644" width="1" height="31" fill="#c0c0c0" />
<rect x="397" y="644" width="1" height="29" fill="#c0c0c0" />
<rect x="405" y="644" width="1" height="29" fill="#c0c0c0" />
<rect x="413" y="644" width="1" height="29" fill="#c0c0c0" />
<rect x="421" y="644" width="1" height="26" fill="#c0c0c0" />
<rect x="429" y="644" width="1" height="28" fill="#c0c0c0" />
<rect x="437" y="644" width="1" height="21" fill="#c0c0c0" />
<rect x="445" y="644" width="1" height="14" fill="#c0c0c0" />
<rect x="453" y="644" width="1" height="9" fill="#c0c0c0" />
<rect x="461" y="644" width="1" height="2" fill="#c0c0c0" />
<rect x="469" y="644" width="1" height="1" fill="#c0c0c0" />
<rect x="477" y="642" width="1" height="3" fill="#c0c0c0" />
<rect x="485" y="640" width="1" height="5" fill="#c0c0c0" />
<rect x="493" y="638" width="1" height="7" fill="#c0c0c0" />
<rect x="501" y="635" width="1" height="10" fill="#c0c0c0" />
<rect x="509" y="631" width="1" height="14" fill="#c0c0c0" />
<rect x="517" y="628" width="1" height="17" fill="#c0c0c0" />
<rect x="525" y="627" width="1" height="18" fill="#c0c0c0" />
<rect x="533" y="626" width="1" height="19" fill="#c0c0c0" />
<rect x="541" y="629" width="1" height="16" fill="#c0c0c0" />
<rect x="549" y="634" width="1" height="11" fill="#c0c0c0" />
<rect x="557" y="633" width="1" height="12" fill="#c0c0c0" />
<rect x="565" y="632" width="1" height="13" fill="#c0c0c0" />
<rect x="573" y="636" width="1" height="9" fill="#c0c0c0" />
<rect x="581" y="639" width="1" height="6" fill="#c0c0c0" />
<rect x="589" y="641" width="1" height="4" fill="#c0c0c0" />
<rect x="597" y="644" width="1" height="1" fill="#c0c0c0" />
<rect x="605" y="644" width="1" height="7" fill="#c0c0c0" />
<rect x="613" y="644" width="1" height="14" fill="#c0c0c0" />
<rect x="621" y="644" width="1" height="27" fill="#c0c0c0" />
<rect x="629" y="644" width="1" height="35" fill="#c0c0c0" />
<rect x="637" y="644" width="1" height="39" fill="#c0c0c0" />
<rect x="645" y="644" width="1" height="39" fill="#c0c0c0" />
<rect x="653" y="644" width="1" height="52" fill="#c0c0c0" />
<rect x="661" y="644" width="1" height="59" fill="#c0c0c0" />
<rect x="669" y="644" width="1" height="63" fill="#c0c0c0" />
<rect x="677" y="644" width="1" height="66" fill="#c0c0c0" />
<rect x="685" y="644" width="1" height="63" fill="#c0c0c0" />
<rect x="693" y="644" width="1" height="59" fill="#c0c0c0" />
<rect x="701" y="644" width="1" height="57" fill="#c0c0c0" />
<rect x="709" y="644" width="1" height="57" fill="#c0c0c0" />
<rect x="717" y="644" width="1" height="56" fill="#c0c0c0" />
<rect x="725" y="644" width="1" height="56" fill="#c0c0c0" />
<rect x="733" y="644" width="1" height="50" fill="#c0c0c0" />
<rect x="741" y="644" width="1" height="47" fill="#c0c0c0" />
<rect x="749" y="644" width="1" height="44" fill="#c0c0c0" />
<rect x="757" y="644" width="1" height="40" fill="#c0c0c0" />
<rect x="765" y="644" width="1" height="37" fill="#c0c0c0" />
<rect x="773" y="644" width="1" height="34" fill="#c0c0c0" />
<rect x="781" y="644" width="1" height="36" fill="#c0c0c0" />
<rect x="789" y="644" width="1" height="37" fill="#c0c0c0" />
<rect x="797" y="644" width="1" height="37" fill="#c0c0c0" />
<rect x="805" y="644" width="1" height="38" fill="#c0c0c0" />
<rect x="813" y="644" width="1" height="39" fill="#c0c0c0" />
<rect x="821" y="644" width="1" height="39" fill="#c0c0c0" />
<rect x="829" y="644" width="1" height="32" fill="#c0c0c0" />
<rect x="837" y="644" width="1" height="25" fill="#c0c0c0" />
<rect x="845" y="644" width="1" height="19" fill="#c0c0c0" />
<rect x="853" y="644" width="1" height="12" fill="#c0c0c0" />
<rect x="869" y="637" width="1" height="8" fill="#c0c0c0" />
<rect x="877" y="633" width="1" height="12" fill="#c0c0c0" />
<rect x="885" y="632" width="1" height="13" fill="#c0c0c0" />
<rect x="893" y="630" width="1" height="15" fill="#c0c0c0" />
<rect x="901" y="627" width="1" height="18" fill="#c0c0c0" />
<rect x="909" y="623" width="1" height="22" fill="#c0c0c0" />
<rect x="917" y="621" width="1" height="24" fill="#c0c0c0" />
<rect x="925" y="617" width="1" height="28" fill="#c0c0c0" />
<rect x="933" y="612" width="1" height="33" fill="#c0c0c0" />
<rect x="941" y="607" width="1" height="38" fill="#c0c0c0" />
<rect x="949" y="599" width="1" height="46" fill="#c0c0c0" />
<rect x="957" y="593" width="1" height="52" fill="#c0c0c0" />
<rect x="965" y="590" width="1" height="55" fill="#c0c0c0" />
<rect x="973" y="590" width="1" height="55" fill="#c0c0c0" />
<rect x="981" y="589" width="1" height="56" fill="#c0c0c0" />
<rect x="989" y="588" width="1" height="57" fill="#c0c0c0" />
<rect x="997" y="588" width="1" height="57" fill="#c0c0c0" />
<rect x="1005" y="589" width="1" height="56" fill="#c0c0c0" />
<rect x="1013" y="591" width="1" height="54" fill="#c0c0c0" />
<rect x="1021" y="593" width="1" height="52" fill="#c0c0c0" />
<rect x="1029" y="601" width="1" height="44" fill="#c0c0c0" />
<rect x="1037" y="608" width="1" height="37" fill="#c0c0c0" />
<rect x="1045" y="614" width="1" height="31" fill="#c0c0c0" />
<rect x="1053" y="620" width="1" height="25" fill="#c0c0c0" />
<rect x="1061" y="626" width="1" height="19" fill="#c0c0c0" />
<rect x="1069" y="632" width="1" height="13" fill="#c0c0c0" />
<rect x="1077" y="639" width="1" height="6" fill="#c0c0c0" />
<rect x="1093" y="644" width="1" height="2" fill="#c0c0c0" />
<rect x="1101" y="644" width="1" height="7" fill="#c0c0c0" />
<rect x="1109" y="644" width="1" height="13" fill="#c0c0c0" />
<rect x="1117" y="644" width="1" height="15" fill="#c0c0c0" />
<rect x="1125" y="644" width="1" height="16" fill="#c0c0c0" />
<rect x="1133" y="644" width="1" height="15" fill="#c0c0c0" />
<rect x="1141" y="644" width="1" height="17" fill="#c0c0c0" />
<rect x="1149" y="644" width="1" height="19" fill="#c0c0c0" />
<rect x="1157" y="644" width="1" height="23" fill="#c0c0c0" />
<rect x="1165" y="644" width="1" height="25" fill="#c0c0c0" />
<rect x="1173" y="644" width="1" height="26" fill="#c0c0c0" />
<rect x="1181" y="644" width="1" height="27" fill="#c0c0c0" />
<rect x="1189" y="644" width="1" height="30" fill="#c0c0c0" />
<rect x="1197" y="644" width="1" height="25" fill="#c0c0c0" />
<rect x="1205" y="644" width="1" height="24" fill="#c0c0c0" />
<rect x="1213" y="644" width="1" height="19" fill="#c0c0c0" />
<rect x="1221" y="644" width="1" height="13" fill="#c0c0c0" />
<rect x="1229" y="644" width="1" height="9" fill="#c0c0c0" />
<rect x="1237" y="644" width="1" height="5" fill="#c0c0c0" />
<rect x="1245" y="644" width="1" height="2" fill="#c0c0c0" />
<rect x="1253" y="640" width="1" height="5" fill="#c0c0c0" />
<rect x="1261" y="636" width="1" height="9" fill="#c0c0c0" />
<rect x="1269" y="633" width="1" height="12" fill="#c0c0c0" />
<rect x="1277" y="630" width="1" height="15" fill="#c0c0c0" />
<rect x="1285" y="633" width="1" height="12" fill="#c0c0c0" />
<rect x="1293" y="634" width="1" height="11" fill="#c0c0c0" />
<rect x="1301" y="642" width="1" height="3" fill="#c0c0c0" />
<rect x="1317" y="644" width="1" height="1" fill="#c0c0c0" />
<rect x="1325" y="644" width="1" height="5" fill="#c0c0c0" />
<rect x="1333" y="644" width="1" height="10" fill="#c0c0c0" />
<rect x="1341" y="644" width="1" height="15" fill="#c0c0c0" />
<rect x="1349" y="644" width="1" height="18" fill="#c0c0c0" />
<rect x="1357" y="644" width="1" height="20" fill="#c0c0c0" />
<rect x="1365" y="644" width="1" height="21" fill="#c0c0c0" />
<rect x="1373" y="644" width="1" height="20" fill="#c0c0c0" />
<rect x="1381" y="644" width="1" height="26" fill="#c0c0c0" />
<rect x="1389" y="644" width="1" height="32" fill="#c0c0c0" />
<rect x="1397" y="644" width="1" height="39" fill="#c0c0c0" />
<rect x="1405" y="644" width="1" height="46" fill="#c0c0c0" />
<rect x="1413" y="644" width="1" height="52" fill="#c0c0c0" />
<rect x="1421" y="644" width="1" height="57" fill="#c0c0c0" />
<path d="M0 671h3v1h-3zM6 672h3v1h-3zM12 673h3v1h-3zM18 674h1v1h-1zM19 675h2v1h-2zM24 677h2v1h-2zM26 678h1v1h-1zM30 680h2v1h-2zM32 681h1v1h-1zM36 683h2v1h-2zM38 684h1v1h-1zM42 687h1v1h-1zM43 688h2v1h-2zM48 691h1v1h-1zM49 692h1v1h-1zM50 693h1v1h-1zM54 697h1v1h-1zM55 698h1v1h-1zM56 699h1v1h-1zM60 703h1v1h-1zM61 704h1v1h-1zM62 705h1v1h-1zM66 708h1v1h-1zM67 709h1v1h-1zM68 710h1v1h-1zM72 713h2v1h-2zM74 714h1v1h-1zM78 717h1v1h-1zM79 718h2v1h-2zM84 721h1v1h-1zM85 722h2v1h-2zM90 724h2v1h-2zM92 725h1v1h-1zM96 726h3v1h-3zM102 727h3v1h-3zM108 726h3v1h-3zM114 724h1v1h-1zM115 723h2v1h-2zM120 721h1v1h-1zM121 720h2v1h-2zM126 717h1v1h-1zM127 716h2v1h-2zM132 713h1v1h-1zM133 712h2v1h-2zM138 709h1v1h-1zM139 708h2v1h-2zM144 705h1v1h-1zM145 704h2v1h-2zM150 701h1v1h-1zM151 700h2v1h-2zM156 698h1v1h-1zM157 697h2v1h-2zM162 694h2v1h-2zM164 693h1v1h-1zM168 691h1v1h-1zM169 690h2v1h-2zM174 688h1v1h-1zM175 687h1v1h-1zM176 686h1v1h-1zM180 684h2v1h-2zM182 683h1v1h-1zM186 681h2v1h-2zM188 680h1v1h-1zM192 679h1v1h-1zM193 678h2v1h-2zM198 677h1v1h-1zM199 676h2v1h-2zM204 674h2v1h-2zM206 673h1v1h-1zM210 671h2v1h-2zM212 670h1v1h-1zM216 669h1v1h-1zM217 668h2v1h-2zM222 666h2v1h-2zM224 665h1v1h-1zM228 664h1v1h-1zM229 663h2v1h-2zM234 662h1v1h-1zM235 661h2v1h-2zM240 659h3v1h-3zM246 658h2v1h-2zM248 657h1v1h-1zM252 657h2v1h-2zM254 656h1v1h-1zM258 656h2v1h-2zM260 655h1v1h-1zM264 655h3v1h-3zM270 654h3v1h-3zM276 655h3v1h-3zM282 656h3v1h-3zM288 657h3v1h-3zM294 658h3v1h-3zM300 660h2v1h-2zM302 661h1v1h-1zM306 662h1v1h-1zM307 663h2v1h-2zM312 665h1v1h-1zM313 666h2v1h-2zM318 668h1v1h-1zM319 669h2v1h-2zM324 672h2v1h-2zM326 673h1v1h-1zM330 675h1v1h-1zM331 676h2v1h-2zM336 679h2v1h-2zM338 680h1v1h-1zM342 682h1v1h-1zM343 683h2v1h-2zM348 684h2v1h-2zM350 685h1v1h-1zM354 686h3v1h-3zM360 687h2v1h-2zM362 688h1v1h-1zM366 689h3v1h-3zM372 689h3v1h-3zM378 688h3v1h-3zM384 687h3v1h-3zM390 686h3v1h-3zM396 685h2v1h-2zM398 684h1v1h-1zM402 683h3v1h-3zM408 681h3v1h-3zM414 679h2v1h-2zM416 678h1v1h-1zM420 677h2v1h-2zM422 676h1v1h-1zM426 675h3v1h-3zM432 674h3v1h-3zM438 673h1v1h-1zM439 672h2v1h-2zM444 671h3v1h-3zM450 669h1v1h-1zM451 668h2v1h-2zM456 666h3v1h-3zM462 664h3v1h-3zM468 663h1v1h-1zM469 662h2v1h-2zM474 660h1v1h-1zM475 659h1v1h-1zM476 658h1v1h-1zM480 656h2v1h-2zM482 655h1v1h-1zM486 653h3v1h-3zM492 651h2v1h-2zM494 650h1v1h-1zM498 648h2v1h-2zM500 647h1v1h-1zM504 645h1v1h-1zM505 644h2v1h-2zM510 642h1v1h-1zM511 641h2v1h-2zM516 640h1v1h-1zM517 639h2v1h-2zM522 637h2v1h-2zM524 636h1v1h-1zM528 635h1v1h-1zM529 634h2v1h-2zM534 633h3v1h-3zM540 632h3v1h-3zM546 631h3v1h-3zM552 630h3v1h-3zM558 630h1v1h-1zM559 629h2v1h-2zM564 629h3v1h-3zM570 629h2v1h-2zM572 630h1v1h-1zM576 630h3v1h-3zM582 631h3v1h-3zM588 632h3v1h-3zM594 633h1v1h-1zM595 634h2v1h-2zM600 635h2v1h-2zM602 636h1v1h-1zM606 637h1v1h-1zM607 638h2v1h-2zM612 640h2v1h-2zM614 641h1v1h-1zM618 643h2v1h-2zM620 644h1v1h-1zM624 646h1v1h-1zM625 647h1v1h-1zM626 648h1v1h-1zM630 651h1v1h-1zM631 652h2v1h-2zM636 655h1v1h-1zM637 656h1v1h-1zM638 657h1v1h-1zM642 660h2v1h-2zM644 661h1v1h-1zM648 664h2v1h-2zM650 665h1v1h-1zM654 668h1v1h-1zM655 669h1v1h-1zM656 670h1v1h-1zM660 673h1v1h-1zM661 674h1v1h-1zM662 675h1v1h-1zM666 679h2v1h-2zM668 680h1v1h-1zM672 684h2v1h-2zM674 685h1v1h-1zM678 688h1v1h-1zM679 689h2v1h-2zM684 692h1v1h-1zM685 693h1v1h-1zM686 694h1v1h-1zM690 696h2v1h-2zM692 697h1v1h-1zM696 698h1v1h-1zM697 699h2v1h-2zM702 700h1v1h-1zM703 701h2v1h-2zM708 702h3v1h-3zM714 703h3v1h-3zM720 704h3v1h-3zM726 703h3v1h-3zM732 702h3v1h-3zM738 701h3v1h-3zM744 700h3v1h-3zM750 698h2v1h-2zM752 697h1v1h-1zM756 696h1v1h-1zM757 695h2v1h-2zM762 694h3v1h-3zM768 693h1v1h-1zM769 692h2v1h-2zM774 691h2v1h-2zM776 690h1v1h-1zM780 689h2v1h-2zM782 688h1v1h-1zM786 687h3v1h-3zM792 686h2v1h-2zM794 685h1v1h-1zM798 685h1v1h-1zM799 684h2v1h-2zM804 684h1v1h-1zM805 683h2v1h-2zM810 683h3v1h-3zM816 682h3v1h-3zM822 682h2v1h-2zM824 681h1v1h-1zM828 681h2v1h-2zM830 680h1v1h-1zM834 680h3v1h-3zM840 679h2v1h-2zM842 678h1v1h-1zM846 676h3v1h-3zM852 674h2v1h-2zM854 673h1v1h-1zM858 671h2v1h-2zM860 670h1v1h-1zM864 668h2v1h-2zM866 667h1v1h-1zM870 665h1v1h-1zM871 664h1v1h-1zM872 663h1v1h-1zM876 661h1v1h-1zM877 660h1v1h-1zM878 659h1v1h-1zM882 656h1v1h-1zM883 655h2v1h-2zM888 652h1v1h-1zM889 651h1v1h-1zM890 650h1v1h-1zM894 647h2v1h-2zM896 646h1v1h-1zM900 643h2v1h-2zM902 642h1v1h-1zM906 640h1v1h-1zM907 639h1v1h-1zM908 638h1v1h-1zM912 636h1v1h-1zM913 635h2v1h-2zM918 632h2v1h-2zM920 631h1v1h-1zM924 629h1v1h-1zM925 628h2v1h-2zM930 626h1v1h-1zM931 625h2v1h-2zM936 623h1v1h-1zM937 622h2v1h-2zM942 620h2v1h-2zM944 619h1v1h-1zM948 618h1v1h-1zM949 617h2v1h-2zM954 615h1v1h-1zM955 614h2v1h-2zM960 612h1v1h-1zM961 611h2v1h-2zM966 608h2v1h-2zM968 607h1v1h-1zM972 605h2v1h-2zM974 604h1v1h-1zM978 603h1v1h-1zM979 602h2v1h-2zM984 600h1v1h-1zM985 599h2v1h-2zM990 597h2v1h-2zM992 596h1v1h-1zM996 595h1v1h-1zM997 594h2v1h-2zM1002 592h3v1h-3zM1008 591h3v1h-3zM1014 590h3v1h-3zM1020 589h3v1h-3zM1026 590h3v1h-3zM1032 591h3v1h-3zM1038 592h2v1h-2zM1040 593h1v1h-1zM1044 594h3v1h-3zM1050 596h1v1h-1zM1051 597h2v1h-2zM1056 599h1v1h-1zM1057 600h2v1h-2zM1062 603h2v1h-2zM1064 604h1v1h-1zM1068 607h2v1h-2zM1070 608h1v1h-1zM1074 611h2v1h-2zM1076 612h1v1h-1zM1080 615h1v1h-1zM1081 616h2v1h-2zM1086 619h1v1h-1zM1087 620h1v1h-1zM1088 621h1v1h-1zM1092 624h1v1h-1zM1093 625h2v1h-2zM1098 628h1v1h-1zM1099 629h2v1h-2zM1104 632h1v1h-1zM1105 633h1v1h-1zM1106 634h1v1h-1zM1110 636h1v1h-1zM1111 637h1v1h-1zM1112 638h1v1h-1zM1116 640h1v1h-1zM1117 641h1v1h-1zM1118 642h1v1h-1zM1122 644h2v1h-2zM1124 645h1v1h-1zM1128 647h2v1h-2zM1130 648h1v1h-1zM1134 649h1v1h-1zM1135 650h2v1h-2zM1140 652h1v1h-1zM1141 653h2v1h-2zM1146 655h1v1h-1zM1147 656h2v1h-2zM1152 657h3v1h-3zM1158 658h1v1h-1zM1159 659h2v1h-2zM1164 660h2v1h-2zM1166 661h1v1h-1zM1170 662h2v1h-2zM1172 663h1v1h-1zM1176 663h1v1h-1zM1177 664h2v1h-2zM1182 664h1v1h-1zM1183 665h2v1h-2zM1188 665h1v1h-1zM1189 666h2v1h-2zM1194 666h1v1h-1zM1195 667h2v1h-2zM1200 667h3v1h-3zM1206 668h3v1h-3zM1212 668h3v1h-3zM1218 668h3v1h-3zM1224 667h2v1h-2zM1226 666h1v1h-1zM1230 665h3v1h-3zM1236 664h3v1h-3zM1242 663h1v1h-1zM1243 662h2v1h-2zM1248 660h2v1h-2zM1250 659h1v1h-1zM1254 657h2v1h-2zM1256 656h1v1h-1zM1260 653h2v1h-2zM1262 652h1v1h-1zM1266 650h2v1h-2zM1268 649h1v1h-1zM1272 647h2v1h-2zM1274 646h1v1h-1zM1278 644h2v1h-2zM1280 643h1v1h-1zM1284 641h2v1h-2zM1286 640h1v1h-1zM1290 639h3v1h-3zM1296 638h2v1h-2zM1298 637h1v1h-1zM1302 637h3v1h-3zM1308 636h3v1h-3zM1314 636h3v1h-3zM1320 636h2v1h-2zM1322 637h1v1h-1zM1326 638h3v1h-3zM1332 640h1v1h-1zM1333 641h2v1h-2zM1338 643h1v1h-1zM1339 644h2v1h-2zM1344 646h2v1h-2zM1346 647h1v1h-1zM1350 649h2v1h-2zM1352 650h1v1h-1zM1356 651h1v1h-1zM1357 652h2v1h-2zM1362 653h1v1h-1zM1363 654h2v1h-2zM1368 655h3v1h-3zM1374 656h3v1h-3zM1380 657h2v1h-2zM1382 658h1v1h-1zM1386 660h2v1h-2zM1388 661h1v1h-1zM1392 663h2v1h-2zM1394 664h1v1h-1zM1398 666h1v1h-1zM1399 667h2v1h-2zM1404 669h1v1h-1zM1405 670h1v1h-1zM1406 671h1v1h-1zM1410 673h2v1h-2zM1412 674h1v1h-1zM1416 676h2v1h-2zM1418 677h1v1h-1z" fill="#ff0000"/>
<line x1="2" x2="1648" y1="786.5" y2="786.5" stroke="#c0c0c0" stroke-width="1" stroke-dasharray="3 3" shape-rendering="crispEdges"/>
<line x1="2" x2="1648" y1="837.5" y2="837.5" stroke="#c0c0c0" stroke-width="1" stroke-dasharray="3 3" shape-rendering="crispEdges"/>
<line x1="2" x2="1648" y1="898.5" y2="898.5" stroke="#c0c0c0" stroke-width="1" stroke-dasharray="3 3" shape-rendering="crispEdges"/>
<path d="M0 850h2v1h-2zM2 851h2v1h-2zM4 852h2v1h-2zM5 853h1v1h-1zM6 854h1v2h-1zM7 856h1v2h-1zM8 858h1v3h-1zM9 861h1v2h-1zM10 863h1v3h-1zM11 866h1v2h-1zM12 868h1v2h-1zM13 870h1v2h-1zM14 872h1v1h-1zM15 873h2v1h-2zM17 874h1v1h-1zM18 875h1v1h-1zM19 876h2v1h-2zM21 877h2v1h-2zM23 878h4v1h-4zM27 879h3v1h-3zM30 880h1v2h-1zM31 882h1v1h-1zM32 883h1v1h-1zM33 884h1v2h-1zM34 886h1v1h-1zM35 887h1v1h-1zM36 888h1v2h-1zM37 890h9v1h-9zM46 888h1v2h-1zM47 887h1v1h-1zM48 885h1v2h-1zM49 884h1v1h-1zM50 882h1v2h-1zM51 881h1v1h-1zM52 879h1v2h-1zM53 877h1v2h-1zM54 874h1v3h-1zM55 871h1v3h-1zM56 868h1v3h-1zM57 866h1v2h-1zM58 863h1v3h-1zM59 860h1v3h-1zM60 857h1v3h-1zM61 856h1v1h-1zM61 855h2v1h-2zM63 854h2v1h-2zM65 853h3v1h-3zM68 852h2v1h-2zM70 853h1v1h-1zM71 854h1v1h-1zM72 855h1v1h-1zM73 856h1v1h-1zM74 857h1v1h-1zM75 858h1v1h-1zM76 859h1v1h-1zM77 860h1v1h-1zM78 859h2v1h-2zM80 858h1v1h-1zM81 857h2v1h-2zM83 856h2v1h-2zM85 855h1v1h-1zM86 854h1v1h-1zM87 853h2v1h-2zM89 852h1v1h-1zM90 851h1v1h-1zM91 850h2v1h-2zM93 849h9v1h-9zM102 850h2v1h-2zM104 851h2v1h-2zM106 852h2v1h-2zM108 853h2v1h-2zM110 852h2v1h-2zM112 851h2v1h-2zM114 850h2v1h-2zM116 849h2v1h-2zM118 847h1v2h-1zM119 846h1v1h-1zM120 844h1v2h-1zM121 843h1v1h-1zM122 841h1v2h-1zM123 840h1v1h-1zM124 838h1v2h-1zM125 837h1v1h-1zM126 838h2v1h-2zM128 839h2v1h-2zM130 840h2v1h-2zM132 841h3v1h-3zM135 842h4v1h-4zM139 843h3v1h-3zM142 844h2v1h-2zM144 845h2v1h-2zM146 846h2v1h-2zM148 847h5v1h-5zM153 846h8v1h-8zM161 847h5v1h-5zM166 846h1v1h-1zM167 845h1v1h-1zM168 844h1v1h-1zM169 843h1v1h-1zM170 842h1v1h-1zM171 841h1v1h-1zM172 840h1v1h-1zM173 839h1v1h-1zM174 840h2v1h-2zM176 841h2v1h-2zM178 842h2v1h-2zM180 843h5v1h-5zM185 842h5v1h-5zM190 841h1v1h-1zM191 840h1v1h-1zM192 839h1v1h-1zM193 838h2v1h-2zM195 837h1v1h-1zM196 836h1v1h-1zM197 835h2v1h-2zM199 834h4v1h-4zM203 833h19v1h-19zM222 834h1v1h-1zM223 835h2v1h-2zM225 836h1v1h-1zM226 837h1v1h-1zM227 838h2v1h-2zM229 839h1v1h-1zM230 840h1v1h-1zM231 841h2v1h-2zM233 842h1v1h-1zM234 843h1v1h-1zM235 844h2v1h-2zM237 845h1v1h-1zM238 844h2v1h-2zM240 843h2v1h-2zM242 842h2v1h-2zM244 841h2v1h-2zM246 842h1v1h-1zM247 843h2v1h-2zM249 844h1v1h-1zM250 845h1v1h-1zM251 846h2v1h-2zM253 847h2v1h-2zM255 848h2v1h-2zM257 849h3v1h-3zM260 850h2v1h-2zM262 851h2v1h-2zM264 852h2v1h-2zM266 853h2v1h-2zM268 854h2v1h-2zM270 855h1v1h-1zM271 856h1v1h-1zM272 857h1v1h-1zM273 858h1v2h-1zM274 860h1v1h-1zM275 861h1v1h-1zM276 862h1v1h-1zM277 863h1v1h-1zM278 862h1v1h-1zM279 861h1v1h-1zM280 860h1v1h-1zM281 858h1v2h-1zM282 857h1v1h-1zM283 856h1v1h-1zM284 855h1v1h-1zM285 854h2v1h-2zM287 855h2v1h-2zM289 856h3v1h-3zM292 857h2v1h-2zM294 858h1v2h-1zM295 860h1v1h-1zM296 861h1v1h-1zM297 862h1v2h-1zM298 864h1v1h-1zM299 865h1v1h-1zM300 866h1v2h-1zM301 868h1v1h-1zM302 869h2v1h-2zM304 870h2v1h-2zM306 871h2v1h-2zM308 872h2v1h-2zM310 873h1v1h-1zM311 874h1v1h-1zM312 875h1v1h-1zM313 876h1v2h-1zM314 878h1v1h-1zM315 879h1v1h-1zM316 880h1v1h-1zM317 881h1v1h-1zM318 880h2v1h-2zM320 879h2v1h-2zM322 878h2v1h-2zM324 877h2v1h-2zM325 876h1v1h-1zM326 873h1v3h-1zM327 871h1v2h-1zM328 868h1v3h-1zM329 865h1v3h-1zM330 862h1v3h-1zM331 860h1v2h-1zM332 857h1v3h-1zM333 855h1v1h-1zM333 856h3v1h-3zM336 857h1v1h-1zM337 858h2v1h-2zM339 859h2v1h-2zM341 860h1v1h-1zM342 858h1v2h-1zM343 856h1v2h-1zM344 854h1v2h-1zM345 853h1v1h-1zM346 851h1v2h-1zM347 849h1v2h-1zM348 847h1v2h-1zM349 846h1v1h-1zM350 845h2v1h-2zM352 844h2v1h-2zM354 843h2v1h-2zM356 842h11v1h-11zM367 841h4v1h-4zM371 840h3v1h-3zM374 841h1v1h-1zM375 842h1v2h-1zM376 844h1v1h-1zM377 845h1v1h-1zM378 846h1v1h-1zM379 847h1v2h-1zM380 849h1v1h-1zM381 850h2v1h-2zM383 849h2v1h-2zM385 848h3v1h-3zM388 847h5v1h-5zM393 846h5v1h-5zM398 847h1v1h-1zM399 848h2v1h-2zM401 849h1v1h-1zM402 850h1v1h-1zM403 851h2v1h-2zM405 852h1v1h-1zM406 851h2v1h-2zM408 850h2v1h-2zM410 849h2v1h-2zM412 848h3v1h-3zM415 847h2v1h-2zM417 846h3v1h-3zM420 845h2v1h-2zM422 846h1v1h-1zM423 847h1v2h-1zM424 849h1v1h-1zM425 850h1v1h-1zM426 851h1v1h-1zM427 852h1v2h-1zM428 854h2v1h-2zM429 855h1v1h-1zM430 851h1v3h-1zM431 848h1v3h-1zM432 845h1v3h-1zM433 843h1v2h-1zM434 840h1v3h-1zM435 837h1v3h-1zM436 834h1v3h-1zM437 832h1v2h-1zM438 831h2v1h-2zM440 830h2v1h-2zM442 829h2v1h-2zM444 828h11v1h-11zM455 827h4v1h-4zM459 826h6v1h-6zM465 825h5v1h-5zM470 826h1v1h-1zM471 827h2v1h-2zM473 828h1v1h-1zM474 829h1v1h-1zM475 830h2v1h-2zM477 831h4v1h-4zM481 832h5v1h-5zM486 831h2v1h-2zM488 830h2v1h-2zM490 829h2v1h-2zM492 828h2v1h-2zM494 827h2v1h-2zM496 826h2v1h-2zM498 825h2v1h-2zM500 824h2v1h-2zM502 823h2v1h-2zM504 822h1v1h-1zM505 821h2v1h-2zM507 820h2v1h-2zM509 819h9v1h-9zM518 820h1v1h-1zM519 821h2v1h-2zM521 822h1v1h-1zM522 823h1v1h-1zM523 824h2v1h-2zM525 825h2v1h-2zM527 824h2v1h-2zM529 823h3v1h-3zM532 822h2v1h-2zM534 823h1v2h-1zM535 825h1v2h-1zM536 827h1v2h-1zM537 829h1v2h-1zM538 831h1v2h-1zM539 833h1v2h-1zM540 835h1v2h-1zM541 837h1v2h-1zM542 839h1v1h-1zM543 840h1v1h-1zM544 841h1v1h-1zM545 842h1v1h-1zM546 843h1v1h-1zM547 844h1v1h-1zM548 845h2v1h-2zM549 846h1v1h-1zM550 843h1v2h-1zM551 841h1v2h-1zM552 839h1v2h-1zM553 837h1v2h-1zM554 835h1v2h-1zM555 833h1v2h-1zM556 831h1v2h-1zM557 830h1v1h-1zM557 829h4v1h-4zM561 828h5v1h-5zM565 829h1v1h-1zM566 830h1v2h-1zM567 832h1v2h-1zM568 834h1v2h-1zM569 836h1v2h-1zM570 838h1v2h-1zM571 840h1v2h-1zM572 842h1v2h-1zM573 845h1v1h-1zM573 844h3v1h-3zM576 843h1v1h-1zM577 842h2v1h-2zM579 841h2v1h-2zM581 840h4v1h-4zM585 841h5v1h-5zM590 842h1v1h-1zM591 843h1v2h-1zM592 845h1v1h-1zM593 846h1v1h-1zM594 847h1v1h-1zM595 848h1v2h-1zM596 850h1v1h-1zM597 851h1v1h-1zM598 852h2v1h-2zM600 853h2v1h-2zM602 854h2v1h-2zM604 855h2v1h-2zM606 856h1v1h-1zM607 857h1v1h-1zM608 858h1v1h-1zM609 859h2v1h-2zM611 860h1v1h-1zM612 861h1v1h-1zM613 862h1v1h-1zM614 863h1v1h-1zM615 864h1v2h-1zM616 866h1v1h-1zM617 867h1v1h-1zM618 868h1v1h-1zM619 869h1v2h-1zM620 871h1v1h-1zM621 872h1v1h-1zM622 871h2v1h-2zM624 870h1v1h-1zM625 869h2v1h-2zM627 868h2v1h-2zM629 867h1v1h-1zM630 866h2v1h-2zM632 865h1v1h-1zM633 864h2v1h-2zM635 863h2v1h-2zM637 862h1v1h-1zM638 861h2v1h-2zM640 860h2v1h-2zM642 859h2v1h-2zM644 858h2v1h-2zM645 859h1v1h-1zM646 860h1v2h-1zM647 862h1v2h-1zM648 864h1v2h-1zM649 866h1v3h-1zM650 869h1v2h-1zM651 871h1v2h-1zM652 873h1v2h-1zM653 876h1v1h-1zM653 875h3v1h-3zM656 874h1v1h-1zM657 873h2v1h-2zM659 872h2v1h-2zM661 871h4v1h-4zM665 872h5v1h-5zM670 871h1v1h-1zM671 870h1v1h-1zM672 869h1v1h-1zM673 868h2v1h-2zM675 867h1v1h-1zM676 866h1v1h-1zM677 865h1v1h-1zM678 864h1v1h-1zM679 863h1v1h-1zM680 862h1v1h-1zM681 861h1v1h-1zM682 860h1v1h-1zM683 859h1v1h-1zM684 858h1v1h-1zM685 857h1v1h-1zM686 856h2v1h-2zM688 855h2v1h-2zM690 854h2v1h-2zM692 853h5v1h-5zM697 854h5v1h-5zM702 855h1v1h-1zM703 856h1v1h-1zM704 857h1v1h-1zM705 858h2v1h-2zM707 859h1v1h-1zM708 860h1v1h-1zM709 861h2v1h-2zM711 860h2v1h-2zM713 859h3v1h-3zM716 858h3v1h-3zM719 859h4v1h-4zM723 860h3v1h-3zM726 858h1v2h-1zM727 856h1v2h-1zM728 855h1v1h-1zM729 853h1v2h-1zM730 852h1v1h-1zM731 850h1v2h-1zM732 848h1v2h-1zM733 847h2v1h-2zM735 848h4v1h-4zM739 849h4v1h-4zM743 850h2v1h-2zM745 851h3v1h-3zM748 852h2v1h-2zM750 851h1v1h-1zM751 850h1v1h-1zM752 849h1v1h-1zM753 848h2v1h-2zM755 847h1v1h-1zM756 846h1v1h-1zM757 845h2v1h-2zM759 846h2v1h-2zM761 847h3v1h-3zM764 848h2v1h-2zM766 847h2v1h-2zM768 846h2v1h-2zM770 845h2v1h-2zM772 844h2v1h-2zM774 845h1v2h-1zM775 847h1v2h-1zM776 849h1v2h-1zM777 851h1v2h-1zM778 853h1v2h-1zM779 855h1v2h-1zM780 857h1v2h-1zM781 859h9v1h-9zM790 858h2v1h-2zM792 857h1v1h-1zM793 856h2v1h-2zM795 855h2v1h-2zM797 854h4v1h-4zM801 855h6v1h-6zM807 856h2v1h-2zM809 857h3v1h-3zM812 858h5v1h-5zM817 857h5v1h-5zM821 856h1v1h-1zM822 853h1v3h-1zM823 850h1v3h-1zM824 847h1v3h-1zM825 845h1v2h-1zM826 842h1v3h-1zM827 839h1v3h-1zM828 836h1v3h-1zM829 835h1v1h-1zM829 834h2v1h-2zM831 833h2v1h-2zM833 832h3v1h-3zM836 831h3v1h-3zM839 832h4v1h-4zM843 833h3v1h-3zM846 832h1v1h-1zM847 831h1v1h-1zM848 830h1v1h-1zM849 829h1v1h-1zM850 828h1v1h-1zM851 827h1v1h-1zM852 826h1v1h-1zM853 825h1v1h-1zM854 823h1v2h-1zM855 821h1v2h-1zM856 820h1v1h-1zM857 818h1v2h-1zM858 817h1v1h-1zM859 815h1v2h-1zM860 813h1v2h-1zM861 812h2v1h-2zM863 813h4v1h-4zM867 814h3v1h-3zM870 815h1v1h-1zM871 816h1v2h-1zM872 818h1v1h-1zM873 819h1v1h-1zM874 820h1v1h-1zM875 821h1v2h-1zM876 823h1v1h-1zM877 824h1v1h-1zM878 825h2v1h-2zM880 826h1v1h-1zM881 827h2v1h-2zM883 828h2v1h-2zM885 829h2v1h-2zM887 828h4v1h-4zM891 827h3v1h-3zM894 826h2v1h-2zM896 825h1v1h-1zM897 824h2v1h-2zM899 823h2v1h-2zM901 822h1v1h-1zM902 821h2v1h-2zM904 820h1v1h-1zM905 819h2v1h-2zM907 818h2v1h-2zM909 817h1v1h-1zM910 818h2v1h-2zM912 819h1v1h-1zM913 820h2v1h-2zM915 821h2v1h-2zM917 822h1v1h-1zM918 821h1v1h-1zM919 820h1v1h-1zM920 819h1v1h-1zM921 818h2v1h-2zM923 817h1v1h-1zM924 816h1v1h-1zM925 815h1v1h-1zM926 814h1v1h-1zM927 813h2v1h-2zM929 812h1v1h-1zM930 811h1v1h-1zM931 810h2v1h-2zM933 809h2v1h-2zM935 808h4v1h-4zM939 807h3v1h-3zM942 806h1v1h-1zM943 805h1v1h-1zM944 804h1v1h-1zM945 803h2v1h-2zM947 802h1v1h-1zM948 801h1v1h-1zM949 800h4v1h-4zM953 799h5v1h-5zM958 800h2v1h-2zM960 801h2v1h-2zM962 802h2v1h-2zM964 803h2v1h-2zM966 804h2v1h-2zM968 805h1v1h-1zM969 806h2v1h-2zM971 807h2v1h-2zM973 808h2v1h-2zM975 807h2v1h-2zM977 806h3v1h-3zM980 805h11v1h-11zM991 804h4v1h-4zM995 803h11v1h-11zM1006 804h1v1h-1zM1007 805h1v1h-1zM1008 806h1v1h-1zM1009 807h2v1h-2zM1011 808h1v1h-1zM1012 809h1v1h-1zM1013 810h4v1h-4zM1017 811h5v1h-5zM1021 812h1v1h-1zM1022 813h1v3h-1zM1023 816h1v3h-1zM1024 819h1v3h-1zM1025 822h1v4h-1zM1026 826h1v3h-1zM1027 829h1v3h-1zM1028 832h1v3h-1zM1029 835h1v1h-1zM1029 836h10v1h-10zM1039 837h4v1h-4zM1043 838h3v1h-3zM1046 839h1v1h-1zM1047 840h2v1h-2zM1049 841h1v1h-1zM1050 842h1v1h-1zM1051 843h2v1h-2zM1053 844h4v1h-4zM1057 845h6v1h-6zM1063 846h2v1h-2zM1065 847h3v1h-3zM1068 848h2v1h-2zM1070 849h1v2h-1zM1071 851h1v1h-1zM1072 852h1v2h-1zM1073 854h1v1h-1zM1074 855h1v2h-1zM1075 857h1v1h-1zM1076 858h1v2h-1zM1077 860h1v1h-1zM1078 859h2v1h-2zM1080 858h2v1h-2zM1082 857h2v1h-2zM1084 856h2v1h-2zM1086 854h1v2h-1zM1087 853h1v1h-1zM1088 852h1v1h-1zM1089 850h1v2h-1zM1090 849h1v1h-1zM1091 848h1v1h-1zM1092 846h1v2h-1zM1093 845h1v1h-1zM1094 846h1v2h-1zM1095 848h1v1h-1zM1096 849h1v2h-1zM1097 851h1v1h-1zM1098 852h1v2h-1zM1099 854h1v1h-1zM1100 855h1v2h-1zM1101 857h1v1h-1zM1102 858h1v1h-1zM1103 859h2v1h-2zM1105 860h1v1h-1zM1106 861h1v1h-1zM1107 862h2v1h-2zM1109 863h1v1h-1zM1110 861h1v2h-1zM1111 860h1v1h-1zM1112 859h1v1h-1zM1113 857h1v2h-1zM1114 856h1v1h-1zM1115 855h1v1h-1zM1116 853h1v2h-1zM1117 852h4v1h-4zM1121 851h5v1h-5zM1126 850h1v1h-1zM1127 849h1v1h-1zM1128 848h1v1h-1zM1129 847h1v1h-1zM1130 846h1v1h-1zM1131 845h1v1h-1zM1132 844h1v1h-1zM1133 843h1v1h-1zM1134 844h1v1h-1zM1135 845h1v1h-1zM1136 846h1v1h-1zM1137 847h1v2h-1zM1138 849h1v1h-1zM1139 850h1v1h-1zM1140 851h1v1h-1zM1141 852h2v1h-2zM1143 853h2v1h-2zM1145 854h3v1h-3zM1148 855h2v1h-2zM1150 856h2v1h-2zM1152 857h1v1h-1zM1153 858h2v1h-2zM1155 859h2v1h-2zM1157 860h18v1h-18zM1175 859h2v1h-2zM1177 858h3v1h-3zM1180 857h2v1h-2zM1182 858h1v1h-1zM1183 859h1v2h-1zM1184 861h1v1h-1zM1185 862h1v1h-1zM1186 863h1v1h-1zM1187 864h1v2h-1zM1188 866h2v1h-2zM1189 867h1v1h-1zM1190 862h1v4h-1zM1191 859h1v3h-1zM1192 856h1v3h-1zM1193 852h1v4h-1zM1194 849h1v3h-1zM1195 846h1v3h-1zM1196 842h1v4h-1zM1197 841h1v1h-1zM1197 840h2v1h-2zM1199 841h2v1h-2zM1201 842h3v1h-3zM1204 843h2v1h-2zM1206 841h1v2h-1zM1207 840h1v1h-1zM1208 839h1v1h-1zM1209 837h1v2h-1zM1210 836h1v1h-1zM1211 835h1v1h-1zM1212 833h1v2h-1zM1213 832h2v1h-2zM1215 831h2v1h-2zM1217 830h3v1h-3zM1220 829h5v1h-5zM1225 828h6v1h-6zM1231 829h2v1h-2zM1233 830h3v1h-3zM1236 831h2v1h-2zM1238 830h2v1h-2zM1240 829h1v1h-1zM1241 828h2v1h-2zM1243 827h2v1h-2zM1245 826h1v1h-1zM1246 825h1v1h-1zM1247 824h1v1h-1zM1248 823h1v1h-1zM1249 821h1v2h-1zM1250 820h1v1h-1zM1251 819h1v1h-1zM1252 818h1v1h-1zM1253 817h9v1h-9zM1262 818h2v1h-2zM1264 819h1v1h-1zM1265 820h2v1h-2zM1267 821h2v1h-2zM1269 822h2v1h-2zM1271 821h2v1h-2zM1273 820h3v1h-3zM1276 819h2v1h-2zM1277 820h1v1h-1zM1278 821h1v2h-1zM1279 823h1v2h-1zM1280 825h1v2h-1zM1281 827h1v3h-1zM1282 830h1v2h-1zM1283 832h1v2h-1zM1284 834h1v2h-1zM1285 836h1v1h-1zM1285 837h2v1h-2zM1287 836h4v1h-4zM1291 835h3v1h-3zM1293 836h1v1h-1zM1294 837h1v2h-1zM1295 839h1v2h-1zM1296 841h1v2h-1zM1297 843h1v2h-1zM1298 845h1v2h-1zM1299 847h1v2h-1zM1300 849h1v2h-1zM1301 852h1v1h-1zM1301 851h3v1h-3zM1304 850h1v1h-1zM1305 849h2v1h-2zM1307 848h2v1h-2zM1309 847h4v1h-4zM1313 848h8v1h-8zM1321 849h5v1h-5zM1326 850h1v1h-1zM1327 851h1v1h-1zM1328 852h1v1h-1zM1329 853h1v1h-1zM1330 854h1v1h-1zM1331 855h1v1h-1zM1332 856h1v1h-1zM1333 857h1v1h-1zM1334 858h2v1h-2zM1336 859h2v1h-2zM1338 860h2v1h-2zM1340 861h2v1h-2zM1342 860h2v1h-2zM1344 859h2v1h-2zM1346 858h2v1h-2zM1348 857h3v1h-3zM1351 856h2v1h-2zM1353 855h3v1h-3zM1356 854h3v1h-3zM1359 853h4v1h-4zM1363 852h6v1h-6zM1369 851h5v1h-5zM1373 852h1v1h-1zM1374 853h1v2h-1zM1375 855h1v2h-1zM1376 857h1v3h-1zM1377 860h1v2h-1zM1378 862h1v3h-1zM1379 865h1v2h-1zM1380 867h1v2h-1zM1381 869h1v2h-1zM1382 871h2v1h-2zM1384 872h2v1h-2zM1386 873h2v1h-2zM1388 874h3v1h-3zM1391 875h4v1h-4zM1395 876h4v1h-4zM1399 877h2v1h-2zM1401 878h3v1h-3zM1404 879h2v1h-2zM1406 880h2v1h-2zM1408 881h1v1h-1zM1409 882h2v1h-2zM1411 883h2v1h-2zM1413 884h4v1h-4zM1417 885h5v1h-5z" fill="#1e90ff"/>
<polygon points="1427,24 1438,24 1432.5,29.5" fill="#c0c0c0"/>
<rect x="1351" y="507" width="128" height="5" fill="#00ee00" />
<line x1="1262.5" y1="288.0" x2="1433.6" y2="549.9" stroke="#ff0000" stroke-width="3.0"/>
<polygon points="1437.6,556.0 1427.2,549.1 1433.1,549.1 1435.4,543.7" fill="#ff0000" stroke="#ff0000" stroke-width="0.6" stroke-linejoin="round"/>
<line x1="1312.3" y1="625.7" x2="1433.0" y2="697.1" stroke="#ff0000" stroke-width="2.7"/>
<polygon points="1439.3,700.8 1427.0,699.0 1432.2,696.6 1431.8,690.9" fill="#ff0000" stroke="#ff0000" stroke-width="0.6" stroke-linejoin="round"/>
<line x1="1256.0" y1="813.0" x2="1414.3" y2="880.2" stroke="#ff0000" stroke-width="2.7"/>
<polygon points="1421.0,883.0 1408.6,882.8 1413.4,879.8 1412.2,874.2" fill="#ff0000" stroke="#ff0000" stroke-width="0.6" stroke-linejoin="round"/>
<rect x="53" y="924" width="1" height="3" fill="#000" />
<rect x="117" y="924" width="1" height="3" fill="#000" />
<rect x="181" y="924" width="1" height="3" fill="#000" />
<rect x="245" y="924" width="1" height="3" fill="#000" />
<rect x="309" y="924" width="1" height="3" fill="#000" />
<rect x="373" y="924" width="1" height="3" fill="#000" />
<rect x="437" y="924" width="1" height="3" fill="#000" />
<rect x="501" y="924" width="1" height="3" fill="#000" />
<rect x="565" y="924" width="1" height="3" fill="#000" />
<rect x="629" y="924" width="1" height="3" fill="#000" />
<rect x="693" y="924" width="1" height="3" fill="#000" />
<rect x="757" y="924" width="1" height="3" fill="#000" />
<rect x="821" y="924" width="1" height="3" fill="#000" />
<rect x="885" y="924" width="1" height="3" fill="#000" />
<rect x="949" y="924" width="1" height="3" fill="#000" />
<rect x="1013" y="924" width="1" height="3" fill="#000" />
<rect x="1077" y="924" width="1" height="3" fill="#000" />
<rect x="1141" y="924" width="1" height="3" fill="#000" />
<rect x="1205" y="924" width="1" height="3" fill="#000" />
<rect x="1269" y="924" width="1" height="3" fill="#000" />
<rect x="1333" y="924" width="1" height="3" fill="#000" />
<rect x="1397" y="924" width="1" height="3" fill="#000" />
<rect x="1649" y="45" width="2" height="1" fill="#000" />
<rect x="1649" y="78" width="2" height="1" fill="#000" />
<rect x="1649" y="111" width="2" height="1" fill="#000" />
<rect x="1649" y="144" width="2" height="1" fill="#000" />
<rect x="1649" y="177" width="2" height="1" fill="#000" />
<rect x="1649" y="210" width="2" height="1" fill="#000" />
<rect x="1649" y="243" width="2" height="1" fill="#000" />
<rect x="1649" y="276" width="2" height="1" fill="#000" />
<rect x="1649" y="309" width="2" height="1" fill="#000" />
<rect x="1649" y="342" width="2" height="1" fill="#000" />
<rect x="1649" y="375" width="2" height="1" fill="#000" />
<rect x="1649" y="408" width="2" height="1" fill="#000" />
<rect x="1649" y="441" width="2" height="1" fill="#000" />
<rect x="1649" y="474" width="2" height="1" fill="#000" />
<rect x="1649" y="573" width="2" height="1" fill="#000" />
<rect x="1649" y="580" width="1" height="1" fill="#000" />
<rect x="1649" y="644" width="2" height="1" fill="#000" />
<rect x="1649" y="747" width="1" height="1" fill="#000" />
<rect x="1649" y="752" width="1" height="1" fill="#000" />
</svg>
<div id="rightedge"></div>
<div class="t" style="left:-13px;top:928px;">22 Jul 2021</div>
<div class="t" style="left:52px;top:928px;">28 Jul 05:00</div>
<div class="t" style="left:116px;top:928px;">3 Aug 05:00</div>
<div class="t" style="left:180px;top:928px;">9 Aug 05:00</div>
<div class="t" style="left:244px;top:928px;">13 Aug 05:00</div>
<div class="t" style="left:308px;top:928px;">19 Aug 05:00</div>
<div class="t" style="left:372px;top:928px;">25 Aug 05:00</div>
<div class="t" style="left:436px;top:928px;">31 Aug 05:00</div>
<div class="t" style="left:500px;top:928px;">6 Sep 05:00</div>
<div class="t" style="left:564px;top:928px;">10 Sep 05:00</div>
<div class="t" style="left:628px;top:928px;">16 Sep 05:00</div>
<div class="t" style="left:692px;top:928px;">23 Sep 05:00</div>
<div class="t" style="left:756px;top:928px;">29 Sep 05:00</div>
<div class="t" style="left:820px;top:928px;">6 Oct 05:00</div>
<div class="t" style="left:884px;top:928px;">12 Oct 05:00</div>
<div class="t" style="left:948px;top:928px;">20 Oct 01:15</div>
<div class="t" style="left:1012px;top:928px;">26 Oct 01:15</div>
<div class="t" style="left:1076px;top:928px;">1 Nov 01:15</div>
<div class="t" style="left:1140px;top:928px;">5 Nov 01:15</div>
<div class="t" style="left:1204px;top:928px;">11 Nov 01:15</div>
<div class="t" style="left:1268px;top:928px;">17 Nov 01:15</div>
<div class="t" style="left:1332px;top:928px;">23 Nov 01:15</div>
<div class="t" style="left:1396px;top:928px;">29 Nov 01:15</div>
<div class="t" style="left:1654px;top:39.5px;">27762.0</div>
<div class="t" style="left:1654px;top:72.5px;">27464.5</div>
<div class="t" style="left:1654px;top:105.5px;">27167.0</div>
<div class="t" style="left:1654px;top:138.5px;">26869.5</div>
<div class="t" style="left:1654px;top:171.5px;">26572.0</div>
<div class="t" style="left:1654px;top:204.5px;">26274.5</div>
<div class="t" style="left:1654px;top:237.5px;">25977.0</div>
<div class="t" style="left:1654px;top:270.5px;">25679.5</div>
<div class="t" style="left:1654px;top:303.5px;">25382.0</div>
<div class="t" style="left:1654px;top:336.5px;">25084.5</div>
<div class="t" style="left:1654px;top:369.5px;">24787.0</div>
<div class="t" style="left:1654px;top:402.5px;">24498.0</div>
<div class="t" style="left:1654px;top:435.5px;">24200.5</div>
<div class="t" style="left:1654px;top:468.5px;">23903.0</div>
<div class="t" style="left:1654px;top:567px;">23010.5</div>
<div class="tag" style="top:454px;background:#ff0000">24029.4</div>
<div class="tag" style="top:480px;background:#ff0000">23794.3</div>
<div class="tag" style="top:503px;background:#32cd32">23587.5</div>
<div class="tag" style="top:517px;background:#000">23468.0</div>
<div class="tag" style="top:537px;background:#0000ff">23281.8</div>
<div class="tag" style="top:558px;background:#0000ff">23092.9</div>
<div class="t" style="left:1652px;top:580px;">443.46</div>
<div class="t" style="left:1652px;top:638px;">0.00</div>
<div class="t" style="left:1652px;top:736px;">-706.76</div>
<div class="t" style="left:1652px;top:752px;">100</div>
<div class="t" style="left:1651px;top:781px;">80</div>
<div class="t" style="left:1651px;top:832px;">50</div>
<div class="t" style="left:1651px;top:893px;">15</div>
<div class="t" style="left:1652px;top:912px;">0</div>
<div class="t" style="left:4px;top:26px;letter-spacing:0px">HK50-,H4&nbsp; 23526.0 23559.0 23101.0 23468.0</div>
<div class="t" style="left:-7px;top:582px;">MACD(12,26,9) -393.07 -238.75</div>
<div class="t" style="left:-6px;top:754px;">RSI(14) 22.1310</div>
<div id="panel">
<div style="left:0;top:41px;width:213px;height:60px;background:#fff"></div>
<div class="red1" style="left:0;top:43px;width:44px;height:24px"></div>
<div class="red1" style="left:160px;top:43px;width:51px;height:24px"></div>
<div class="red2" style="left:0;top:67px;width:101px;height:33px"></div>
<div class="red2" style="left:103px;top:67px;width:108px;height:33px"></div>
<div style="left:0;top:66px;width:40px;height:1px;background:#f8a0a0"></div>
<div style="left:163px;top:66px;width:44px;height:1px;background:#f8a0a0"></div>
<div style="left:46px;top:43px;width:109px;height:20px;background:#fff;border:1px solid #a8a8a8"></div>
<div style="left:48px;top:45px;width:19px;height:18px;background:linear-gradient(#f4f4f4,#d0d0d0);border-right:1px solid #c0c0c0"></div>
<div style="left:136px;top:45px;width:19px;height:18px;background:linear-gradient(#f4f4f4,#d0d0d0);border-left:1px solid #c0c0c0"></div>
<div style="left:53px;top:52px;width:0;height:0;border-left:3px solid transparent;border-right:3px solid transparent;border-top:3px solid #4050b0"></div>
<div style="left:143px;top:52px;width:0;height:0;border-left:3px solid transparent;border-right:3px solid transparent;border-bottom:3px solid #4050b0"></div>
<div class="pw" style="left:4px;top:48px;font-size:12px;line-height:14px;letter-spacing:-0.4px">SELL</div>
<div class="pw" style="left:172px;top:48px;font-size:12px;line-height:14px">BUY</div>
<div style="left:100px;top:47px;width:32px;text-align:right;font-size:12px;line-height:14px;color:#000">1.00</div>
<div class="pw" style="left:8px;top:84px;font-size:12px;line-height:14px;font-weight:bold">23466</div>
<div class="pw" style="left:118px;top:84px;font-size:12px;line-height:14px;font-weight:bold">23482</div>
<div class="pw" style="left:45px;top:66px;font-size:33px;line-height:36px;transform-origin:0 0;transform:scaleX(0.86);letter-spacing:2px">.5</div>
<div class="pw" style="left:156px;top:66px;font-size:33px;line-height:36px;transform-origin:0 0;transform:scaleX(0.86);letter-spacing:2px">.5</div>
</div>
</body></html>
